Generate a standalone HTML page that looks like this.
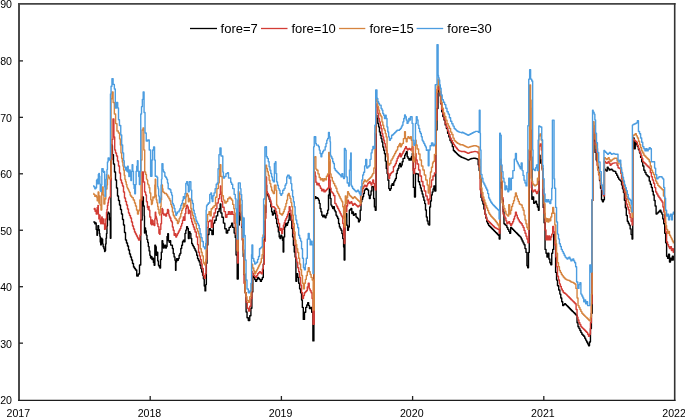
<!DOCTYPE html>
<html><head><meta charset="utf-8"><style>
html,body{margin:0;padding:0;background:#fff;}
svg{display:block;}
text{font-family:"Liberation Sans",Arial,sans-serif;font-size:10.6px;fill:#000;}
</style></head><body>
<svg width="685" height="418" viewBox="0 0 685 418">
<rect width="685" height="418" fill="#fff"/>
<g clip-path="url(#c)">
<polyline points="93.30,222.00 93.80,222.00 93.80,222.00 94.80,222.00 94.80,223.80 95.50,223.80 95.50,223.00 96.20,223.00 96.20,229.60 96.95,229.60 96.95,235.30 97.45,235.30 97.45,230.50 97.90,230.50 97.90,225.70 98.60,225.70 98.60,229.60 99.35,229.60 99.35,233.40 99.80,233.40 99.80,236.30 100.25,236.30 100.25,242.00 100.75,242.00 100.75,244.90 101.25,244.90 101.25,238.20 101.95,238.20 101.95,239.10 102.65,239.10 102.65,243.90 103.15,243.90 103.15,246.80 103.90,246.80 103.90,248.70 104.60,248.70 104.60,251.60 105.05,251.60 105.05,250.60 105.55,250.60 105.55,243.90 106.05,243.90 106.05,238.20 106.50,238.20 106.50,233.40 106.95,233.40 106.95,226.00 107.45,226.00 107.45,214.10 107.95,214.10 107.95,212.20 108.65,212.20 108.65,213.20 109.35,213.20 109.35,219.90 109.85,219.90 109.85,218.00 110.35,218.00 110.35,238.20 110.90,238.20 110.90,160.00 111.45,160.00 111.45,144.40 111.80,144.40 111.80,145.60 112.43,145.60 112.43,154.80 113.47,154.80 113.47,164.00 114.50,164.00 114.50,172.00 115.50,172.00 115.50,180.00 116.50,180.00 116.50,188.00 117.50,188.00 117.50,196.00 118.50,196.00 118.50,200.50 119.50,200.50 119.50,205.00 120.50,205.00 120.50,209.50 121.50,209.50 121.50,214.00 122.50,214.00 122.50,219.50 123.50,219.50 123.50,225.00 124.50,225.00 124.50,232.50 125.50,232.50 125.50,240.00 126.50,240.00 126.50,243.00 127.50,243.00 127.50,246.00 128.50,246.00 128.50,250.00 129.50,250.00 129.50,254.00 130.50,254.00 130.50,257.00 131.50,257.00 131.50,260.00 132.50,260.00 132.50,263.50 133.50,263.50 133.50,267.00 134.50,267.00 134.50,268.50 135.50,268.50 135.50,270.00 136.75,270.00 136.75,276.00 138.25,276.00 138.25,274.00 139.50,274.00 139.50,265.00 140.75,265.00 140.75,220.00 142.15,220.00 142.15,197.00 143.40,197.00 143.40,206.00 144.20,206.00 144.20,216.00 144.50,216.00 144.50,233.00 144.90,233.00 144.90,227.90 145.55,227.90 145.55,230.80 146.25,230.80 146.25,235.10 146.95,235.10 146.95,239.40 147.65,239.40 147.65,242.30 148.35,242.30 148.35,246.60 149.10,246.60 149.10,250.90 149.85,250.90 149.85,255.20 150.55,255.20 150.55,258.10 151.25,258.10 151.25,256.60 151.95,256.60 151.95,259.50 152.65,259.50 152.65,258.10 153.40,258.10 153.40,262.40 154.15,262.40 154.15,265.20 154.85,265.20 154.85,245.10 155.55,245.10 155.55,246.60 156.25,246.60 156.25,255.20 157.00,255.20 157.00,252.30 157.75,252.30 157.75,260.90 158.45,260.90 158.45,265.20 159.15,265.20 159.15,266.70 159.85,266.70 159.85,268.10 160.55,268.10 160.55,259.50 161.30,259.50 161.30,252.30 162.05,252.30 162.05,240.80 162.75,240.80 162.75,243.70 163.45,243.70 163.45,248.00 164.15,248.00 164.15,246.60 164.85,246.60 164.85,245.10 165.60,245.10 165.60,248.00 166.35,248.00 166.35,246.60 167.05,246.60 167.05,236.50 167.75,236.50 167.75,233.70 168.45,233.70 168.45,240.80 169.20,240.80 169.20,242.30 169.95,242.30 169.95,240.80 170.65,240.80 170.65,245.10 171.50,245.10 171.50,245.20 172.40,245.20 172.40,248.50 173.25,248.50 173.25,253.50 174.10,253.50 174.10,256.90 174.95,256.90 174.95,260.20 175.55,260.20 175.55,270.30 175.95,270.30 175.95,261.90 176.60,261.90 176.60,258.60 177.45,258.60 177.45,260.20 178.30,260.20 178.30,258.60 179.10,258.60 179.10,255.20 179.95,255.20 179.95,253.50 180.80,253.50 180.80,248.50 181.65,248.50 181.65,245.20 182.50,245.20 182.50,241.80 183.30,241.80 183.30,240.10 184.15,240.10 184.15,241.80 185.00,241.80 185.00,233.40 185.80,233.40 185.80,230.10 186.65,230.10 186.65,226.70 187.50,226.70 187.50,228.40 188.35,228.40 188.35,238.50 189.20,238.50 189.20,231.80 190.00,231.80 190.00,233.40 190.85,233.40 190.85,238.50 191.70,238.50 191.70,243.50 192.50,243.50 192.50,245.20 193.35,245.20 193.35,246.80 194.20,246.80 194.20,248.50 195.05,248.50 195.05,250.20 195.90,250.20 195.90,251.90 196.70,251.90 196.70,255.20 197.55,255.20 197.55,258.60 198.40,258.60 198.40,260.20 199.20,260.20 199.20,261.90 200.05,261.90 200.05,265.30 200.90,265.30 200.90,268.60 201.75,268.60 201.75,272.00 202.60,272.00 202.60,275.30 203.40,275.30 203.40,278.70 204.25,278.70 204.25,286.00 205.00,286.00 205.00,290.90 205.30,290.90 205.30,290.90 205.70,290.90 205.70,284.60 206.35,284.60 206.35,263.20 207.00,263.20 207.00,245.00 207.85,245.00 207.85,234.50 209.00,234.50 209.00,228.80 210.45,228.80 210.45,230.20 211.90,230.20 211.90,234.50 213.30,234.50 213.30,223.10 214.75,223.10 214.75,220.20 216.20,220.20 216.20,215.90 217.65,215.90 217.65,211.60 219.10,211.60 219.10,208.70 220.15,208.70 220.15,204.00 220.85,204.00 220.85,213.00 221.95,213.00 221.95,217.30 223.40,217.30 223.40,223.10 224.80,223.10 224.80,228.80 226.25,228.80 226.25,233.10 227.70,233.10 227.70,230.20 229.10,230.20 229.10,227.40 230.55,227.40 230.55,225.90 231.65,225.90 231.65,223.10 232.70,223.10 232.70,227.40 234.15,227.40 234.15,233.10 235.25,233.10 235.25,237.40 236.05,237.40 236.05,255.00 237.20,255.00 237.20,279.00 238.25,279.00 238.25,225.00 239.25,225.00 239.25,205.80 240.25,205.80 240.25,213.00 240.95,213.00 240.95,220.20 241.65,220.20 241.65,227.40 242.40,227.40 242.40,240.00 243.25,240.00 243.25,256.50 244.17,256.50 244.17,274.65 245.12,274.65 245.12,292.80 246.10,292.80 246.10,312.00 247.05,312.00 247.05,317.70 248.30,317.70 248.30,320.60 249.75,320.60 249.75,315.80 250.90,315.80 250.90,308.20 251.88,308.20 251.88,291.90 252.83,291.90 252.83,275.60 253.78,275.60 253.78,277.55 254.72,277.55 254.72,279.50 255.65,279.50 255.65,281.40 256.60,281.40 256.60,279.45 257.60,279.45 257.60,277.50 258.58,277.50 258.58,278.50 259.52,278.50 259.52,279.50 260.45,279.50 260.45,281.40 261.38,281.40 261.38,279.45 262.33,279.45 262.33,277.50 263.30,277.50 263.30,264.10 264.15,264.10 264.15,240.00 264.93,240.00 264.93,212.60 265.77,212.60 265.77,185.20 266.60,185.20 266.60,193.40 267.43,193.40 267.43,195.05 268.27,195.05 268.27,196.70 269.12,196.70 269.12,199.20 269.97,199.20 269.97,201.70 270.80,201.70 270.80,206.80 271.60,206.80 271.60,211.80 272.45,211.80 272.45,215.10 273.30,215.10 273.30,213.50 274.15,213.50 274.15,210.10 275.00,210.10 275.00,213.50 275.80,213.50 275.80,218.50 276.65,218.50 276.65,223.50 277.50,223.50 277.50,226.90 278.35,226.90 278.35,231.90 279.20,231.90 279.20,236.90 280.00,236.90 280.00,238.60 280.85,238.60 280.85,235.20 281.70,235.20 281.70,236.90 282.50,236.90 282.50,240.30 283.15,240.30 283.15,252.00 283.75,252.00 283.75,236.90 284.60,236.90 284.60,226.90 285.70,226.90 285.70,223.50 286.70,223.50 286.70,225.20 287.53,225.20 287.53,222.70 288.38,222.70 288.38,220.20 289.20,220.20 289.20,213.50 290.05,213.50 290.05,215.10 290.90,215.10 290.90,220.20 291.75,220.20 291.75,228.50 292.60,228.50 292.60,236.90 293.40,236.90 293.40,245.30 294.25,245.30 294.25,252.00 295.10,252.00 295.10,257.00 295.90,257.00 295.90,281.20 296.75,281.20 296.75,273.60 297.70,273.60 297.70,277.40 298.65,277.40 298.65,283.20 299.60,283.20 299.60,288.90 300.60,288.90 300.60,292.70 301.55,292.70 301.55,300.00 302.35,300.00 302.35,307.40 303.30,307.40 303.30,319.40 304.50,319.40 304.50,312.20 305.70,312.20 305.70,307.40 306.77,307.40 306.77,305.00 307.73,305.00 307.73,302.60 308.62,302.60 308.62,305.60 309.47,305.60 309.47,308.60 310.50,308.60 310.50,307.40 311.70,307.40 311.70,312.20 312.90,312.20 312.90,340.90 313.90,340.90 313.90,200.00 314.55,200.00 314.55,197.00 315.15,197.00 315.15,196.70 315.95,196.70 315.95,198.40 316.80,198.40 316.80,197.60 317.60,197.60 317.60,198.40 318.45,198.40 318.45,200.10 319.30,200.10 319.30,203.40 320.10,203.40 320.10,208.50 320.95,208.50 320.95,211.80 321.80,211.80 321.80,215.20 322.65,215.20 322.65,216.80 323.50,216.80 323.50,215.20 324.30,215.20 324.30,216.80 325.15,216.80 325.15,217.70 326.00,217.70 326.00,215.20 326.80,215.20 326.80,213.50 327.65,213.50 327.65,210.10 328.50,210.10 328.50,195.00 329.35,195.00 329.35,188.40 330.20,188.40 330.20,198.40 331.00,198.40 331.00,205.10 331.85,205.10 331.85,206.80 332.70,206.80 332.70,208.50 333.50,208.50 333.50,206.80 334.35,206.80 334.35,210.10 335.20,210.10 335.20,211.80 336.05,211.80 336.05,215.20 336.90,215.20 336.90,216.80 337.70,216.80 337.70,218.50 338.55,218.50 338.55,223.50 339.40,223.50 339.40,226.90 340.20,226.90 340.20,228.60 341.05,228.60 341.05,230.20 341.90,230.20 341.90,233.60 342.75,233.60 342.75,238.60 343.60,238.60 343.60,247.00 344.15,247.00 344.15,260.00 344.90,260.00 344.90,216.90 345.95,216.90 345.95,213.60 346.80,213.60 346.80,225.30 347.60,225.30 347.60,230.30 348.45,230.30 348.45,227.00 349.30,227.00 349.30,210.20 350.12,210.20 350.12,209.35 350.97,209.35 350.97,208.50 351.80,208.50 351.80,213.60 352.60,213.60 352.60,211.90 353.45,211.90 353.45,215.20 354.32,215.20 354.32,214.40 355.18,214.40 355.18,213.60 356.00,213.60 356.00,216.90 356.82,216.90 356.82,217.75 357.68,217.75 357.68,218.60 358.50,218.60 358.50,221.90 359.35,221.90 359.35,220.30 360.20,220.30 360.20,210.20 361.00,210.20 361.00,201.80 361.82,201.80 361.82,199.30 362.68,199.30 362.68,196.80 363.53,196.80 363.53,193.45 364.38,193.45 364.38,190.10 365.23,190.10 365.23,189.25 366.07,189.25 366.07,188.40 366.90,188.40 366.90,189.25 367.70,189.25 367.70,190.10 368.55,190.10 368.55,195.10 369.40,195.10 369.40,198.50 370.20,198.50 370.20,195.10 371.03,195.10 371.03,190.95 371.88,190.95 371.88,186.80 372.75,186.80 372.75,186.80 373.60,186.80 373.60,198.50 374.40,198.50 374.40,206.90 375.25,206.90 375.25,210.20 376.10,210.20 376.10,115.20 376.95,115.20 376.95,118.50 377.80,118.50 377.80,123.50 378.60,123.50 378.60,126.90 379.45,126.90 379.45,131.90 380.30,131.90 380.30,135.30 381.10,135.30 381.10,138.60 381.95,138.60 381.95,142.00 382.80,142.00 382.80,147.00 383.65,147.00 383.65,150.30 384.50,150.30 384.50,153.70 385.35,153.70 385.35,161.10 386.25,161.10 386.25,168.50 387.10,168.50 387.10,173.50 387.95,173.50 387.95,180.20 388.80,180.20 388.80,188.60 389.65,188.60 389.65,190.30 390.50,190.30 390.50,188.60 391.30,188.60 391.30,185.20 392.15,185.20 392.15,183.60 393.00,183.60 393.00,185.20 393.80,185.20 393.80,181.90 394.65,181.90 394.65,180.20 395.50,180.20 395.50,178.50 396.35,178.50 396.35,173.50 397.20,173.50 397.20,170.20 398.00,170.20 398.00,168.50 398.85,168.50 398.85,165.10 399.70,165.10 399.70,163.50 400.50,163.50 400.50,166.80 401.35,166.80 401.35,165.10 402.20,165.10 402.20,161.80 403.05,161.80 403.05,158.40 403.90,158.40 403.90,158.40 404.70,158.40 404.70,155.10 405.55,155.10 405.55,153.40 406.40,153.40 406.40,151.70 407.20,151.70 407.20,156.80 408.05,156.80 408.05,158.40 408.90,158.40 408.90,160.10 409.75,160.10 409.75,158.40 410.60,158.40 410.60,160.10 411.40,160.10 411.40,156.80 412.25,156.80 412.25,153.40 413.35,153.40 413.35,187.40 414.50,187.40 414.50,197.00 415.45,197.00 415.45,173.40 416.32,173.40 416.32,173.70 417.18,173.70 417.18,174.00 418.40,174.00 418.40,181.70 419.62,181.70 419.62,184.85 420.47,184.85 420.47,188.00 421.32,188.00 421.32,191.00 422.18,191.00 422.18,194.00 423.00,194.00 423.00,197.00 423.85,197.00 423.85,200.20 424.70,200.20 424.70,203.60 425.50,203.60 425.50,210.00 426.35,210.00 426.35,217.00 427.20,217.00 427.20,221.00 428.05,221.00 428.05,224.00 428.90,224.00 428.90,225.00 429.70,225.00 429.70,207.00 430.53,207.00 430.53,201.00 431.38,201.00 431.38,195.00 432.23,195.00 432.23,192.00 433.07,192.00 433.07,189.00 433.90,189.00 433.90,186.00 434.75,186.00 434.75,191.00 435.85,191.00 435.85,130.00 437.00,130.00 437.00,108.50 438.00,108.50 438.00,87.00 439.02,87.00 439.02,91.50 440.08,91.50 440.08,96.00 440.90,96.00 440.90,104.00 441.70,104.00 441.70,111.70 442.80,111.70 442.80,116.50 444.00,116.50 444.00,120.10 445.20,120.10 445.20,124.90 446.40,124.90 446.40,128.50 447.60,128.50 447.60,133.30 448.80,133.30 448.80,136.90 450.00,136.90 450.00,140.50 451.20,140.50 451.20,142.80 452.33,142.80 452.33,146.65 453.38,146.65 453.38,150.50 454.38,150.50 454.38,151.45 455.33,151.45 455.33,152.40 456.28,152.40 456.28,153.37 457.25,153.37 457.25,154.33 458.22,154.33 458.22,155.30 459.18,155.30 459.18,155.93 460.15,155.93 460.15,156.57 461.12,156.57 461.12,157.20 462.07,157.20 462.07,157.53 463.00,157.53 463.00,157.87 463.93,157.87 463.93,158.20 464.90,158.20 464.90,158.65 465.90,158.65 465.90,159.10 466.88,159.10 466.88,159.60 467.83,159.60 467.83,160.10 468.77,160.10 468.77,159.60 469.73,159.60 469.73,159.10 470.67,159.10 470.67,158.80 471.62,158.80 471.62,158.50 472.53,158.50 472.53,158.35 473.38,158.35 473.38,158.20 474.40,158.20 474.40,158.20 475.45,158.20 475.45,158.50 476.35,158.50 476.35,158.80 477.25,158.80 477.25,159.10 478.17,159.10 478.17,164.85 479.12,164.85 479.12,170.60 480.05,170.60 480.05,178.30 481.00,178.30 481.00,197.40 481.98,197.40 481.98,200.70 482.92,200.70 482.92,204.00 483.88,204.00 483.88,209.05 484.83,209.05 484.83,214.10 485.77,214.10 485.77,217.95 486.73,217.95 486.73,221.80 487.67,221.80 487.67,223.70 488.62,223.70 488.62,225.60 489.60,225.60 489.60,226.55 490.60,226.55 490.60,227.50 491.58,227.50 491.58,228.45 492.52,228.45 492.52,229.40 493.48,229.40 493.48,230.40 494.42,230.40 494.42,231.40 495.38,231.40 495.38,232.35 496.33,232.35 496.33,233.30 497.27,233.30 497.27,234.25 498.23,234.25 498.23,235.20 499.20,235.20 499.20,239.00 500.00,239.00 500.00,180.00 500.65,180.00 500.65,176.00 501.43,176.00 501.43,187.93 502.27,187.93 502.27,199.85 503.12,199.85 503.12,211.77 503.97,211.77 503.97,223.70 504.90,223.70 504.90,224.65 505.90,224.65 505.90,225.60 506.88,225.60 506.88,227.50 507.83,227.50 507.83,229.40 508.77,229.40 508.77,231.35 509.73,231.35 509.73,233.30 510.65,233.30 510.65,227.50 511.60,227.50 511.60,228.45 512.60,228.45 512.60,229.40 513.58,229.40 513.58,230.40 514.52,230.40 514.52,231.40 515.48,231.40 515.48,232.35 516.42,232.35 516.42,233.30 517.38,233.30 517.38,234.25 518.32,234.25 518.32,235.20 519.27,235.20 519.27,236.15 520.23,236.15 520.23,237.10 521.18,237.10 521.18,239.05 522.12,239.05 522.12,241.00 523.08,241.00 523.08,242.90 524.02,242.90 524.02,244.80 525.00,244.80 525.00,248.60 526.00,248.60 526.00,252.40 526.95,252.40 526.95,265.80 527.70,265.80 527.70,267.70 528.50,267.70 528.50,252.40 529.25,252.40 529.25,160.00 529.90,160.00 529.90,144.00 530.90,144.00 530.90,157.00 531.85,157.00 531.85,199.30 532.70,199.30 532.70,197.00 533.65,197.00 533.65,203.20 534.58,203.20 534.58,202.20 535.52,202.20 535.52,201.20 536.48,201.20 536.48,204.10 537.42,204.10 537.42,207.00 538.40,207.00 538.40,210.30 539.10,210.30 539.10,155.30 540.05,155.30 540.05,163.00 541.15,163.00 541.15,160.00 542.10,160.00 542.10,168.70 543.15,168.70 543.15,207.40 544.10,207.40 544.10,222.70 545.05,222.70 545.05,249.40 546.00,249.40 546.00,253.30 546.95,253.30 546.95,257.10 547.90,257.10 547.90,253.30 548.90,253.30 548.90,259.00 549.85,259.00 549.85,262.80 550.80,262.80 550.80,264.80 551.75,264.80 551.75,253.30 552.70,253.30 552.70,249.40 553.65,249.40 553.65,234.10 554.60,234.10 554.60,239.90 555.60,239.90 555.60,272.40 556.55,272.40 556.55,280.10 557.50,280.10 557.50,285.80 558.70,285.80 558.70,290.00 559.85,290.00 559.85,294.10 560.77,294.10 560.77,297.95 561.73,297.95 561.73,301.80 562.70,301.80 562.70,305.60 563.68,305.60 563.68,304.65 564.62,304.65 564.62,303.70 565.58,303.70 565.58,304.65 566.52,304.65 566.52,305.60 567.48,305.60 567.48,306.55 568.42,306.55 568.42,307.50 569.38,307.50 569.38,308.50 570.32,308.50 570.32,309.50 571.30,309.50 571.30,310.45 572.30,310.45 572.30,311.40 573.27,311.40 573.27,312.35 574.23,312.35 574.23,313.30 575.18,313.30 575.18,314.25 576.12,314.25 576.12,315.20 577.05,315.20 577.05,322.80 578.00,322.80 578.00,326.70 578.98,326.70 578.98,328.60 579.92,328.60 579.92,330.50 580.88,330.50 580.88,332.40 581.82,332.40 581.82,334.30 582.77,334.30 582.77,335.25 583.73,335.25 583.73,336.20 584.68,336.20 584.68,338.15 585.62,338.15 585.62,340.10 586.60,340.10 586.60,342.00 587.60,342.00 587.60,343.90 588.55,343.90 588.55,345.80 589.50,345.80 589.50,342.00 590.45,342.00 590.45,328.60 591.40,328.60 591.40,313.30 592.20,313.30 592.20,200.00 593.05,200.00 593.05,133.30 594.10,133.30 594.10,140.90 595.05,140.90 595.05,152.40 596.20,152.40 596.20,160.10 597.05,160.10 597.05,161.50 597.68,161.50 597.68,167.25 598.62,167.25 598.62,173.00 599.58,173.00 599.58,180.65 600.52,180.65 600.52,188.30 601.50,188.30 601.50,199.80 602.45,199.80 602.45,201.70 603.40,201.70 603.40,199.80 604.40,199.80 604.40,169.10 605.38,169.10 605.38,170.10 606.32,170.10 606.32,171.10 607.25,171.10 607.25,167.20 608.18,167.20 608.18,168.60 609.12,168.60 609.12,170.00 610.10,170.00 610.10,169.55 611.10,169.55 611.10,169.10 612.08,169.10 612.08,170.10 613.02,170.10 613.02,171.10 613.95,171.10 613.95,171.30 614.85,171.30 614.85,171.50 615.77,171.50 615.77,173.40 616.73,173.40 616.73,175.30 617.68,175.30 617.68,177.20 618.62,177.20 618.62,179.10 619.60,179.10 619.60,180.10 620.60,180.10 620.60,181.10 621.55,181.10 621.55,184.90 622.50,184.90 622.50,188.70 623.45,188.70 623.45,192.50 624.40,192.50 624.40,200.20 625.35,200.20 625.35,207.80 626.30,207.80 626.30,215.50 627.30,215.50 627.30,221.20 628.25,221.20 628.25,223.20 629.20,223.20 629.20,225.10 630.15,225.10 630.15,228.90 631.10,228.90 631.10,234.60 632.05,234.60 632.05,239.00 632.75,239.00 632.75,140.00 633.30,140.00 633.30,138.00 634.15,138.00 634.15,148.80 635.25,148.80 635.25,142.30 636.32,142.30 636.32,144.45 637.38,144.45 637.38,146.60 638.45,146.60 638.45,149.85 639.55,149.85 639.55,153.10 640.62,153.10 640.62,157.40 641.68,157.40 641.68,161.70 642.75,161.70 642.75,166.00 643.85,166.00 643.85,170.30 644.92,170.30 644.92,172.45 645.98,172.45 645.98,174.60 647.05,174.60 647.05,175.70 648.15,175.70 648.15,176.80 649.25,176.80 649.25,181.10 650.32,181.10 650.32,184.30 651.38,184.30 651.38,187.50 652.35,187.50 652.35,191.25 653.25,191.25 653.25,195.00 654.18,195.00 654.18,200.50 655.12,200.50 655.12,206.00 656.10,206.00 656.10,214.10 657.08,214.10 657.08,213.15 658.02,213.15 658.02,212.20 658.98,212.20 658.98,211.25 659.92,211.25 659.92,210.30 660.88,210.30 660.88,212.20 661.82,212.20 661.82,214.10 662.77,214.10 662.77,218.90 663.73,218.90 663.73,223.70 664.70,223.70 664.70,233.30 665.65,233.30 665.65,242.80 666.60,242.80 666.60,256.20 667.60,256.20 667.60,258.20 668.55,258.20 668.55,254.30 669.50,254.30 669.50,262.00 670.50,262.00 670.50,258.20 671.45,258.20 671.45,260.10 672.35,260.10 672.35,256.20 673.30,256.20 673.30,260.10 673.80,260.10" fill="none" stroke="#000000" stroke-width="1.4" stroke-linejoin="round"/>
<polyline points="93.80,209.40 94.30,209.40 94.30,208.40 95.05,208.40 95.05,211.30 95.50,211.30 95.50,210.30 96.20,210.30 96.20,214.10 97.20,214.10 97.20,207.40 97.90,207.40 97.90,205.50 98.35,205.50 98.35,214.10 98.85,214.10 98.85,218.90 99.35,218.90 99.35,215.10 100.05,215.10 100.05,221.80 100.75,221.80 100.75,223.70 101.25,223.70 101.25,218.90 101.75,218.90 101.75,217.00 102.20,217.00 102.20,221.80 102.65,221.80 102.65,223.70 103.15,223.70 103.15,218.90 103.90,218.90 103.90,223.70 104.60,223.70 104.60,229.40 105.05,229.40 105.05,228.50 105.80,228.50 105.80,218.90 106.50,218.90 106.50,212.20 106.95,212.20 106.95,209.40 107.45,209.40 107.45,205.50 107.95,205.50 107.95,202.70 108.45,202.70 108.45,199.80 108.90,199.80 108.90,197.90 109.60,197.90 109.60,196.90 110.45,196.90 110.45,180.00 111.23,180.00 111.23,159.67 112.10,159.67 112.10,139.33 112.97,139.33 112.97,119.00 113.90,119.00 113.90,137.00 114.70,137.00 114.70,150.00 115.50,150.00 115.50,153.00 116.50,153.00 116.50,156.00 117.50,156.00 117.50,161.00 118.50,161.00 118.50,166.00 119.50,166.00 119.50,173.00 120.50,173.00 120.50,180.00 121.50,180.00 121.50,183.00 122.50,183.00 122.50,186.00 123.50,186.00 123.50,192.00 124.50,192.00 124.50,198.00 125.50,198.00 125.50,201.50 126.50,201.50 126.50,205.00 127.50,205.00 127.50,209.00 128.50,209.00 128.50,213.00 129.50,213.00 129.50,215.50 130.50,215.50 130.50,218.00 131.50,218.00 131.50,222.00 132.50,222.00 132.50,226.00 133.50,226.00 133.50,229.00 134.50,229.00 134.50,232.00 135.50,232.00 135.50,234.00 136.50,234.00 136.50,236.00 137.50,236.00 137.50,238.00 138.50,238.00 138.50,240.00 139.25,240.00 139.25,240.00 139.90,240.00 139.90,235.00 140.90,235.00 140.90,200.00 142.15,200.00 142.15,172.00 143.40,172.00 143.40,182.00 144.60,182.00 144.60,192.00 145.60,192.00 145.60,195.00 146.45,195.00 146.45,201.70 147.40,201.70 147.40,207.40 148.10,207.40 148.10,209.40 148.55,209.40 148.55,206.50 149.05,206.50 149.05,210.30 149.80,210.30 149.80,217.00 150.75,217.00 150.75,223.70 151.45,223.70 151.45,224.70 151.95,224.70 151.95,219.90 152.45,219.90 152.45,220.80 153.15,220.80 153.15,224.70 153.85,224.70 153.85,223.70 154.35,223.70 154.35,225.60 154.80,225.60 154.80,218.90 155.25,218.90 155.25,212.20 155.75,212.20 155.75,216.10 156.25,216.10 156.25,218.00 156.75,218.00 156.75,219.90 157.20,219.90 157.20,223.70 157.90,223.70 157.90,226.60 158.90,226.60 158.90,233.30 159.60,233.30 159.60,234.20 160.05,234.20 160.05,229.40 160.80,229.40 160.80,223.70 161.50,223.70 161.50,214.10 161.95,214.10 161.95,208.40 162.45,208.40 162.45,209.40 162.95,209.40 162.95,213.20 163.65,213.20 163.65,215.10 164.60,215.10 164.60,214.10 165.60,214.10 165.60,216.10 166.55,216.10 166.55,213.20 167.50,213.20 167.50,209.40 168.20,209.40 168.20,210.30 168.65,210.30 168.65,214.10 169.15,214.10 169.15,216.10 169.90,216.10 169.90,218.00 170.85,218.00 170.85,220.80 171.65,220.80 171.65,221.90 172.40,221.90 172.40,227.00 173.25,227.00 173.25,230.30 174.10,230.30 174.10,235.30 174.95,235.30 174.95,233.70 175.80,233.70 175.80,237.00 176.62,237.00 176.62,235.33 177.45,235.33 177.45,233.67 178.28,233.67 178.28,232.00 179.12,232.00 179.12,230.30 179.98,230.30 179.98,228.60 180.82,228.60 180.82,226.10 181.68,226.10 181.68,223.60 182.50,223.60 182.50,220.30 183.30,220.30 183.30,216.90 184.15,216.90 184.15,220.30 185.00,220.30 185.00,213.60 185.80,213.60 185.80,208.50 186.65,208.50 186.65,205.20 187.50,205.20 187.50,206.90 188.35,206.90 188.35,213.60 189.20,213.60 189.20,210.20 190.00,210.20 190.00,211.90 190.85,211.90 190.85,218.60 191.70,218.60 191.70,221.90 192.52,221.90 192.52,224.45 193.38,224.45 193.38,227.00 194.23,227.00 194.23,229.50 195.07,229.50 195.07,232.00 196.30,232.00 196.30,237.00 197.57,237.00 197.57,244.65 198.53,244.65 198.53,252.30 199.45,252.30 199.45,255.90 200.35,255.90 200.35,259.50 201.25,259.50 201.25,263.95 202.15,263.95 202.15,268.40 203.30,268.40 203.30,275.60 204.35,275.60 204.35,278.30 205.25,278.30 205.25,273.80 206.10,273.80 206.10,259.30 207.00,259.30 207.00,227.40 208.30,227.40 208.30,221.60 209.75,221.60 209.75,220.20 211.20,220.20 211.20,227.40 212.60,227.40 212.60,217.30 214.05,217.30 214.05,213.00 215.50,213.00 215.50,208.70 216.90,208.70 216.90,203.00 218.35,203.00 218.35,198.70 219.60,198.70 219.60,194.40 220.35,194.40 220.35,186.00 220.90,186.00 220.90,192.00 221.55,192.00 221.55,201.50 222.65,201.50 222.65,207.30 224.10,207.30 224.10,211.60 225.50,211.60 225.50,217.30 226.95,217.30 226.95,214.40 228.40,214.40 228.40,211.60 229.85,211.60 229.85,214.40 231.30,214.40 231.30,211.60 232.70,211.60 232.70,214.40 234.15,214.40 234.15,223.10 235.25,223.10 235.25,227.40 235.95,227.40 235.95,234.50 236.75,234.50 236.75,250.00 237.55,250.00 237.55,263.00 238.20,263.00 238.20,215.00 238.85,215.00 238.85,194.40 239.55,194.40 239.55,204.40 240.25,204.40 240.25,211.60 240.95,211.60 240.95,215.90 241.65,215.90 241.65,225.90 242.40,225.90 242.40,240.00 243.05,240.00 243.05,250.00 244.00,250.00 244.00,283.30 245.17,283.30 245.17,292.85 246.12,292.85 246.12,302.40 247.25,302.40 247.25,308.20 248.50,308.20 248.50,311.00 249.75,311.00 249.75,306.20 250.90,306.20 250.90,298.60 251.85,298.60 251.85,271.80 252.78,271.80 252.78,273.70 253.72,273.70 253.72,275.60 254.68,275.60 254.68,276.55 255.62,276.55 255.62,277.50 256.60,277.50 256.60,275.60 257.60,275.60 257.60,273.70 258.58,273.70 258.58,272.75 259.52,272.75 259.52,271.80 260.48,271.80 260.48,272.75 261.42,272.75 261.42,273.70 262.38,273.70 262.38,268.90 263.33,268.90 263.33,264.10 264.27,264.10 264.27,241.20 265.23,241.20 265.23,218.30 265.95,218.30 265.95,176.90 266.60,176.90 266.60,191.70 267.43,191.70 267.43,193.35 268.27,193.35 268.27,195.00 269.12,195.00 269.12,197.55 269.97,197.55 269.97,200.10 270.80,200.10 270.80,203.45 271.60,203.45 271.60,206.80 272.43,206.80 272.43,206.80 273.27,206.80 273.27,206.80 274.12,206.80 274.12,207.60 274.97,207.60 274.97,208.40 275.82,208.40 275.82,211.75 276.68,211.75 276.68,215.10 277.53,215.10 277.53,219.30 278.38,219.30 278.38,223.50 279.60,223.50 279.60,230.20 280.85,230.20 280.85,228.50 281.70,228.50 281.70,233.60 282.53,233.60 282.53,229.40 283.38,229.40 283.38,225.20 284.23,225.20 284.23,222.70 285.07,222.70 285.07,220.20 285.90,220.20 285.90,218.50 286.70,218.50 286.70,216.80 287.53,216.80 287.53,214.30 288.38,214.30 288.38,211.80 289.20,211.80 289.20,206.80 290.05,206.80 290.05,210.10 290.93,210.10 290.93,215.15 291.77,215.15 291.77,220.20 292.60,220.20 292.60,226.90 293.40,226.90 293.40,233.60 294.23,233.60 294.23,239.45 295.07,239.45 295.07,245.30 295.90,245.30 295.90,258.30 296.75,258.30 296.75,262.10 297.70,262.10 297.70,267.80 298.65,267.80 298.65,271.70 299.60,271.70 299.60,277.40 300.60,277.40 300.60,285.10 301.55,285.10 301.55,292.70 302.50,292.70 302.50,298.50 303.48,298.50 303.48,295.60 304.42,295.60 304.42,292.70 305.38,292.70 305.38,291.75 306.33,291.75 306.33,290.80 307.27,290.80 307.27,287.00 308.23,287.00 308.23,283.20 309.20,283.20 309.20,288.90 310.17,288.90 310.17,290.80 311.12,290.80 311.12,292.70 312.05,292.70 312.05,298.50 313.00,298.50 313.00,324.20 314.20,324.20 314.20,172.00 315.20,172.00 315.20,176.00 315.85,176.00 315.85,182.30 316.80,182.30 316.80,184.70 318.00,184.70 318.00,183.50 319.20,183.50 319.20,185.90 320.40,185.90 320.40,188.30 321.60,188.30 321.60,190.70 322.80,190.70 322.80,189.50 324.00,189.50 324.00,191.90 325.20,191.90 325.20,190.70 326.40,190.70 326.40,189.50 327.55,189.50 327.55,188.30 328.70,188.30 328.70,162.00 329.60,162.00 329.60,179.90 330.20,179.90 330.20,188.30 331.10,188.30 331.10,191.90 332.30,191.90 332.30,193.10 333.50,193.10 333.50,195.50 334.85,195.50 334.85,203.40 336.03,203.40 336.03,205.10 336.88,205.10 336.88,206.80 337.73,206.80 337.73,208.45 338.57,208.45 338.57,210.10 339.40,210.10 339.40,211.80 340.20,211.80 340.20,213.50 341.03,213.50 341.03,215.15 341.88,215.15 341.88,216.80 342.75,216.80 342.75,223.50 343.60,223.50 343.60,235.30 344.25,235.30 344.25,243.60 344.90,243.60 344.90,205.00 345.85,205.00 345.85,211.90 346.80,211.90 346.80,206.05 347.60,206.05 347.60,200.20 348.43,200.20 348.43,201.85 349.27,201.85 349.27,203.50 350.12,203.50 350.12,202.65 350.97,202.65 350.97,201.80 351.80,201.80 351.80,203.50 352.60,203.50 352.60,205.20 353.43,205.20 353.43,204.35 354.27,204.35 354.27,203.50 355.12,203.50 355.12,204.35 355.97,204.35 355.97,205.20 356.82,205.20 356.82,206.05 357.68,206.05 357.68,206.90 358.53,206.90 358.53,206.05 359.38,206.05 359.38,205.20 360.60,205.20 360.60,195.10 361.82,195.10 361.82,191.75 362.68,191.75 362.68,188.40 363.53,188.40 363.53,186.75 364.38,186.75 364.38,185.10 365.23,185.10 365.23,185.95 366.07,185.95 366.07,186.80 366.90,186.80 366.90,185.10 367.70,185.10 367.70,183.40 368.53,183.40 368.53,182.55 369.38,182.55 369.38,181.70 370.23,181.70 370.23,183.40 371.07,183.40 371.07,185.10 371.93,185.10 371.93,182.55 372.77,182.55 372.77,180.00 373.60,180.00 373.60,183.40 374.40,183.40 374.40,186.80 375.20,186.80 375.20,190.00 376.00,190.00 376.00,104.00 376.90,104.00 376.90,106.80 377.80,106.80 377.80,113.50 378.60,113.50 378.60,118.50 379.45,118.50 379.45,121.90 380.30,121.90 380.30,125.20 381.10,125.20 381.10,128.60 381.95,128.60 381.95,133.60 382.80,133.60 382.80,136.90 383.65,136.90 383.65,140.30 384.50,140.30 384.50,143.60 385.30,143.60 385.30,147.00 386.15,147.00 386.15,150.30 387.00,150.30 387.00,153.70 387.90,153.70 387.90,173.50 388.80,173.50 388.80,178.50 389.65,178.50 389.65,175.20 390.50,175.20 390.50,173.50 391.32,173.50 391.32,172.65 392.18,172.65 392.18,171.80 393.40,171.80 393.40,166.80 394.62,166.80 394.62,165.15 395.47,165.15 395.47,163.50 396.32,163.50 396.32,160.95 397.18,160.95 397.18,158.40 398.03,158.40 398.03,156.75 398.88,156.75 398.88,155.10 399.70,155.10 399.70,153.40 400.50,153.40 400.50,156.80 401.32,156.80 401.32,155.10 402.18,155.10 402.18,153.40 403.03,153.40 403.03,151.75 403.88,151.75 403.88,150.10 404.73,150.10 404.73,148.40 405.57,148.40 405.57,146.70 406.40,146.70 406.40,148.40 407.20,148.40 407.20,150.10 408.03,150.10 408.03,149.25 408.88,149.25 408.88,148.40 409.73,148.40 409.73,149.25 410.57,149.25 410.57,150.10 411.43,150.10 411.43,148.40 412.27,148.40 412.27,146.70 413.05,146.70 413.05,170.30 413.80,170.30 413.80,173.60 414.60,173.60 414.60,168.60 415.45,168.60 415.45,153.60 416.15,153.60 416.15,160.00 417.15,160.00 417.15,164.00 418.60,164.00 418.60,170.00 420.00,170.00 420.00,176.00 421.45,176.00 421.45,181.50 422.90,181.50 422.90,186.00 424.30,186.00 424.30,191.00 425.75,191.00 425.75,196.00 427.20,196.00 427.20,200.00 428.25,200.00 428.25,204.00 429.00,204.00 429.00,199.00 430.10,199.00 430.10,187.00 431.50,187.00 431.50,180.00 432.95,180.00 432.95,176.00 434.40,176.00 434.40,173.00 435.80,173.00 435.80,120.00 437.05,120.00 437.05,89.50 438.20,89.50 438.20,87.10 439.40,87.10 439.40,91.90 440.50,91.90 440.50,103.00 441.60,103.00 441.60,109.40 442.80,109.40 442.80,114.10 444.00,114.10 444.00,118.90 445.20,118.90 445.20,123.70 446.40,123.70 446.40,127.30 447.60,127.30 447.60,130.90 448.80,130.90 448.80,134.50 450.00,134.50 450.00,138.10 451.20,138.10 451.20,140.50 452.40,140.50 452.40,142.80 453.50,142.80 453.50,144.40 454.50,144.40 454.50,146.00 455.46,146.00 455.46,147.12 456.39,147.12 456.39,148.25 457.31,148.25 457.31,149.38 458.24,149.38 458.24,150.50 459.18,150.50 459.18,150.83 460.15,150.83 460.15,151.17 461.12,151.17 461.12,151.50 462.07,151.50 462.07,151.50 463.00,151.50 463.00,151.50 463.93,151.50 463.93,151.50 464.90,151.50 464.90,151.95 465.90,151.95 465.90,152.40 466.88,152.40 466.88,152.90 467.83,152.90 467.83,153.40 468.77,153.40 468.77,152.90 469.73,152.90 469.73,152.40 470.67,152.40 470.67,152.20 471.62,152.20 471.62,152.00 472.58,152.00 472.58,151.83 473.55,151.83 473.55,151.67 474.52,151.67 474.52,151.50 475.47,151.50 475.47,151.67 476.40,151.67 476.40,151.83 477.33,151.83 477.33,152.00 478.20,152.00 478.20,153.40 479.10,153.40 479.10,166.80 480.05,166.80 480.05,189.80 480.98,189.80 480.98,193.60 481.92,193.60 481.92,197.40 482.90,197.40 482.90,200.20 483.90,200.20 483.90,203.00 484.85,203.00 484.85,214.10 485.77,214.10 485.77,217.00 486.73,217.00 486.73,219.90 487.67,219.90 487.67,220.85 488.62,220.85 488.62,221.80 489.60,221.80 489.60,222.75 490.60,222.75 490.60,223.70 491.58,223.70 491.58,224.65 492.52,224.65 492.52,225.60 493.48,225.60 493.48,226.55 494.42,226.55 494.42,227.50 495.38,227.50 495.38,228.00 496.33,228.00 496.33,228.50 497.27,228.50 497.27,228.95 498.23,228.95 498.23,229.40 499.20,229.40 499.20,233.30 499.95,233.30 499.95,170.00 500.60,170.00 500.60,165.00 501.42,165.00 501.42,181.37 502.25,181.37 502.25,197.73 503.08,197.73 503.08,214.10 503.98,214.10 503.98,216.05 504.92,216.05 504.92,218.00 505.88,218.00 505.88,220.85 506.83,220.85 506.83,223.70 507.77,223.70 507.77,222.75 508.73,222.75 508.73,221.80 509.67,221.80 509.67,223.70 510.62,223.70 510.62,225.60 511.60,225.60 511.60,223.70 512.60,223.70 512.60,221.80 513.58,221.80 513.58,218.95 514.52,218.95 514.52,216.10 515.45,216.10 515.45,212.20 516.38,212.20 516.38,215.10 517.32,215.10 517.32,218.00 518.30,218.00 518.30,219.90 519.30,219.90 519.30,221.80 520.27,221.80 520.27,222.75 521.23,222.75 521.23,223.70 522.18,223.70 522.18,225.60 523.12,225.60 523.12,227.50 524.08,227.50 524.08,230.40 525.02,230.40 525.02,233.30 525.98,233.30 525.98,236.15 526.92,236.15 526.92,239.00 527.90,239.00 527.90,242.80 528.85,242.80 528.85,160.00 529.70,160.00 529.70,108.00 530.65,108.00 530.65,130.00 531.35,130.00 531.35,187.80 531.92,187.80 531.92,189.75 532.78,189.75 532.78,191.70 533.68,191.70 533.68,190.85 534.62,190.85 534.62,190.00 535.58,190.00 535.58,191.80 536.52,191.80 536.52,193.60 537.42,193.60 537.42,191.80 538.28,191.80 538.28,190.00 539.05,190.00 539.05,146.00 540.10,146.00 540.10,144.00 541.30,144.00 541.30,150.00 542.15,150.00 542.15,170.00 543.05,170.00 543.05,195.00 544.10,195.00 544.10,213.20 545.05,213.20 545.05,230.00 546.00,230.00 546.00,239.90 546.95,239.90 546.95,236.00 547.90,236.00 547.90,239.90 548.90,239.90 548.90,236.00 549.85,236.00 549.85,239.90 550.77,239.90 550.77,237.00 551.73,237.00 551.73,234.10 552.70,234.10 552.70,226.50 553.75,226.50 553.75,232.00 554.90,232.00 554.90,245.00 555.80,245.00 555.80,257.10 556.55,257.10 556.55,266.70 557.50,266.70 557.50,276.20 558.48,276.20 558.48,280.05 559.42,280.05 559.42,283.90 560.38,283.90 560.38,286.45 561.32,286.45 561.32,289.00 562.27,289.00 562.27,290.75 563.23,290.75 563.23,292.50 564.30,292.50 564.30,293.30 565.50,293.30 565.50,294.10 566.58,294.10 566.58,295.10 567.52,295.10 567.52,296.10 568.48,296.10 568.48,297.05 569.42,297.05 569.42,298.00 570.38,298.00 570.38,298.95 571.32,298.95 571.32,299.90 572.27,299.90 572.27,300.85 573.23,300.85 573.23,301.80 574.18,301.80 574.18,302.75 575.12,302.75 575.12,303.70 576.10,303.70 576.10,309.50 577.05,309.50 577.05,317.10 577.98,317.10 577.98,319.95 578.92,319.95 578.92,322.80 579.90,322.80 579.90,324.75 580.90,324.75 580.90,326.70 581.88,326.70 581.88,327.65 582.82,327.65 582.82,328.60 583.77,328.60 583.77,329.55 584.73,329.55 584.73,330.50 585.68,330.50 585.68,331.45 586.62,331.45 586.62,332.40 587.58,332.40 587.58,334.30 588.52,334.30 588.52,336.20 589.50,336.20 589.50,334.30 590.45,334.30 590.45,322.80 591.40,322.80 591.40,303.70 592.20,303.70 592.20,200.00 593.05,200.00 593.05,125.60 594.10,125.60 594.10,133.30 595.05,133.30 595.05,144.80 596.20,144.80 596.20,152.40 597.05,152.40 597.05,165.30 597.68,165.30 597.68,170.10 598.62,170.10 598.62,174.90 599.58,174.90 599.58,179.65 600.52,179.65 600.52,184.40 601.48,184.40 601.48,189.20 602.42,189.20 602.42,194.00 603.40,194.00 603.40,195.90 604.40,195.90 604.40,161.50 605.38,161.50 605.38,162.45 606.32,162.45 606.32,163.40 607.27,163.40 607.27,162.45 608.23,162.45 608.23,161.50 609.18,161.50 609.18,163.40 610.12,163.40 610.12,165.30 611.08,165.30 611.08,164.35 612.02,164.35 612.02,163.40 613.05,163.40 613.05,163.15 614.15,163.15 614.15,162.90 615.18,162.90 615.18,162.90 616.12,162.90 616.12,162.90 617.08,162.90 617.08,165.30 618.02,165.30 618.02,167.70 618.98,167.70 618.98,168.20 619.92,168.20 619.92,168.70 620.75,168.70 620.75,173.40 621.55,173.40 621.55,179.10 622.50,179.10 622.50,184.90 623.48,184.90 623.48,188.70 624.42,188.70 624.42,192.50 625.38,192.50 625.38,198.25 626.32,198.25 626.32,204.00 627.27,204.00 627.27,206.90 628.23,206.90 628.23,209.80 629.20,209.80 629.20,213.60 630.15,213.60 630.15,217.40 631.10,217.40 631.10,221.20 632.05,221.20 632.05,225.00 632.65,225.00 632.65,139.00 633.27,139.00 633.27,139.55 634.23,139.55 634.23,140.10 635.23,140.10 635.23,141.20 636.27,141.20 636.27,142.30 637.35,142.30 637.35,145.55 638.45,145.55 638.45,148.80 639.55,148.80 639.55,152.00 640.65,152.00 640.65,155.20 641.73,155.20 641.73,158.45 642.77,158.45 642.77,161.70 643.85,161.70 643.85,162.75 644.95,162.75 644.95,163.80 646.02,163.80 646.02,164.90 647.08,164.90 647.08,166.00 648.15,166.00 648.15,167.05 649.25,167.05 649.25,168.10 650.32,168.10 650.32,172.45 651.38,172.45 651.38,176.80 652.45,176.80 652.45,180.00 653.55,180.00 653.55,183.20 654.62,183.20 654.62,187.60 655.68,187.60 655.68,192.00 656.75,192.00 656.75,194.00 657.85,194.00 657.85,196.00 658.92,196.00 658.92,197.50 659.98,197.50 659.98,199.00 661.00,199.00 661.00,200.50 662.00,200.50 662.00,202.00 662.92,202.00 662.92,207.00 663.78,207.00 663.78,212.00 664.70,212.00 664.70,222.00 665.65,222.00 665.65,232.00 666.60,232.00 666.60,242.00 667.60,242.00 667.60,244.80 668.55,244.80 668.55,246.70 669.50,246.70 669.50,248.60 670.50,248.60 670.50,246.70 671.45,246.70 671.45,250.50 672.35,250.50 672.35,248.60 673.30,248.60 673.30,252.40 673.80,252.40" fill="none" stroke="#d33c35" stroke-width="1.4" stroke-linejoin="round"/>
<polyline points="93.30,193.50 93.80,193.50 93.80,194.40 94.80,194.40 94.80,196.40 95.75,196.40 95.75,195.40 96.45,195.40 96.45,197.00 97.20,197.00 97.20,200.70 98.15,200.70 98.15,192.00 98.85,192.00 98.85,203.00 99.35,203.00 99.35,196.00 100.05,196.00 100.05,205.00 101.00,205.00 101.00,210.00 101.75,210.00 101.75,190.00 102.45,190.00 102.45,187.00 103.15,187.00 103.15,195.00 103.90,195.00 103.90,204.00 104.85,204.00 104.85,199.00 105.80,199.00 105.80,189.00 106.55,189.00 106.55,189.00 107.00,189.00 107.00,184.90 107.45,184.90 107.45,179.10 107.95,179.10 107.95,175.30 108.65,175.30 108.65,177.20 109.60,177.20 109.60,179.10 110.35,179.10 110.35,177.20 111.05,177.20 111.05,98.70 111.95,98.70 111.95,92.00 113.10,92.00 113.10,102.50 114.35,102.50 114.35,114.00 115.60,114.00 115.60,123.60 116.95,123.60 116.95,131.00 118.35,131.00 118.35,133.00 119.60,133.00 119.60,138.90 120.35,138.90 120.35,145.00 120.95,145.00 120.95,152.90 121.65,152.90 121.65,158.20 122.30,158.20 122.30,162.10 122.95,162.10 122.95,166.10 123.60,166.10 123.60,170.00 124.25,170.00 124.25,175.30 124.90,175.30 124.90,179.20 125.55,179.20 125.55,181.80 126.25,181.80 126.25,184.50 126.90,184.50 126.90,187.10 127.55,187.10 127.55,188.40 128.20,188.40 128.20,189.70 128.85,189.70 128.85,191.10 129.50,191.10 129.50,192.40 130.15,192.40 130.15,195.00 130.85,195.00 130.85,196.30 131.85,196.30 131.85,197.60 133.25,197.60 133.25,200.00 134.50,200.00 134.50,203.00 135.50,203.00 135.50,206.00 136.50,206.00 136.50,210.00 137.50,210.00 137.50,214.00 138.50,214.00 138.50,211.00 139.10,211.00 139.10,210.00 139.85,210.00 139.85,200.00 141.00,200.00 141.00,160.00 142.00,160.00 142.00,130.00 143.00,130.00 143.00,128.00 143.85,128.00 143.85,150.00 144.70,150.00 144.70,172.00 145.60,172.00 145.60,174.40 146.45,174.40 146.45,179.10 147.15,179.10 147.15,180.10 147.65,180.10 147.65,183.90 148.35,183.90 148.35,184.90 149.05,184.90 149.05,187.80 149.80,187.80 149.80,193.00 150.75,193.00 150.75,199.80 151.45,199.80 151.45,204.60 151.95,204.60 151.95,203.60 152.45,203.60 152.45,200.70 152.90,200.70 152.90,196.90 153.35,196.90 153.35,197.90 154.10,197.90 154.10,196.90 154.80,196.90 154.80,185.00 155.25,185.00 155.25,179.10 155.75,179.10 155.75,195.00 156.25,195.00 156.25,199.80 156.95,199.80 156.95,202.70 157.65,202.70 157.65,206.50 158.15,206.50 158.15,209.40 158.90,209.40 158.90,213.20 159.60,213.20 159.60,215.10 160.05,215.10 160.05,212.20 160.55,212.20 160.55,206.50 161.05,206.50 161.05,199.80 161.55,199.80 161.55,192.00 162.00,192.00 162.00,184.90 162.45,184.90 162.45,188.70 162.95,188.70 162.95,191.60 163.65,191.60 163.65,192.50 164.60,192.50 164.60,193.50 165.60,193.50 165.60,193.50 166.55,193.50 166.55,195.00 167.70,195.00 167.70,196.90 168.90,196.90 168.90,198.80 169.90,198.80 169.90,200.70 170.85,200.70 170.85,204.60 171.65,204.60 171.65,206.90 172.40,206.90 172.40,211.90 173.25,211.90 173.25,215.20 174.12,215.20 174.12,216.90 174.98,216.90 174.98,218.60 176.20,218.60 176.20,220.30 177.45,220.30 177.45,223.60 178.30,223.60 178.30,221.90 179.10,221.90 179.10,218.60 179.95,218.60 179.95,216.90 180.80,216.90 180.80,213.60 181.65,213.60 181.65,210.20 182.50,210.20 182.50,208.50 183.30,208.50 183.30,203.50 184.15,203.50 184.15,206.90 185.00,206.90 185.00,203.50 185.80,203.50 185.80,196.80 186.65,196.80 186.65,193.50 187.50,193.50 187.50,195.10 188.35,195.10 188.35,201.80 189.20,201.80 189.20,198.50 190.00,198.50 190.00,200.20 190.85,200.20 190.85,208.50 191.70,208.50 191.70,211.90 192.50,211.90 192.50,215.20 193.35,215.20 193.35,218.60 194.23,218.60 194.23,221.10 195.07,221.10 195.07,223.60 196.30,223.60 196.30,228.60 197.52,228.60 197.52,231.15 198.38,231.15 198.38,233.70 199.20,233.70 199.20,237.00 200.20,237.00 200.20,248.70 201.25,248.70 201.25,252.30 202.15,252.30 202.15,255.90 203.30,255.90 203.30,263.00 204.55,263.00 204.55,264.90 205.45,264.90 205.45,261.30 206.10,261.30 206.10,249.80 206.65,249.80 206.65,221.60 207.60,221.60 207.60,214.40 209.00,214.40 209.00,211.60 210.10,211.60 210.10,215.90 211.20,215.90 211.20,208.70 212.60,208.70 212.60,207.30 214.05,207.30 214.05,205.80 215.50,205.80 215.50,197.20 216.90,197.20 216.90,188.60 218.35,188.60 218.35,182.90 219.25,182.90 219.25,176.50 219.75,176.50 219.75,164.80 220.85,164.80 220.85,176.50 222.15,176.50 222.15,195.80 223.40,195.80 223.40,200.10 224.80,200.10 224.80,203.00 226.25,203.00 226.25,201.50 227.70,201.50 227.70,198.70 229.10,198.70 229.10,197.20 230.55,197.20 230.55,198.70 231.65,198.70 231.65,200.10 232.70,200.10 232.70,204.40 233.80,204.40 233.80,208.70 234.55,208.70 234.55,213.00 235.25,213.00 235.25,223.10 235.95,223.10 235.95,230.20 236.65,230.20 236.65,237.40 237.40,237.40 237.40,251.00 238.05,251.00 238.05,200.00 238.40,200.00 238.40,191.50 238.85,191.50 238.85,192.90 239.55,192.90 239.55,198.70 240.25,198.70 240.25,204.40 240.95,204.40 240.95,213.00 241.65,213.00 241.65,223.10 242.40,223.10 242.40,234.50 243.05,234.50 243.05,245.00 243.50,245.00 243.50,252.70 244.20,252.70 244.20,273.70 245.15,273.70 245.15,292.80 246.07,292.80 246.07,296.65 247.03,296.65 247.03,300.50 248.30,300.50 248.30,302.40 249.75,302.40 249.75,296.70 250.90,296.70 250.90,290.90 251.70,290.90 251.70,264.10 252.65,264.10 252.65,268.00 253.78,268.00 253.78,270.85 254.72,270.85 254.72,273.70 255.67,273.70 255.67,271.80 256.62,271.80 256.62,269.90 257.58,269.90 257.58,267.95 258.52,267.95 258.52,266.00 259.48,266.00 259.48,264.10 260.42,264.10 260.42,262.20 261.30,262.20 261.30,258.40 262.10,258.40 262.10,254.60 263.00,254.60 263.00,235.00 263.90,235.00 263.90,219.95 264.70,219.95 264.70,204.90 265.65,204.90 265.65,165.10 266.60,165.10 266.60,168.50 267.45,168.50 267.45,171.80 268.30,171.80 268.30,175.20 269.10,175.20 269.10,180.20 269.95,180.20 269.95,183.60 270.80,183.60 270.80,186.90 271.60,186.90 271.60,190.30 272.45,190.30 272.45,191.90 273.30,191.90 273.30,193.60 274.40,193.60 274.40,185.20 275.40,185.20 275.40,185.20 275.95,185.20 275.95,190.30 276.65,190.30 276.65,205.10 277.53,205.10 277.53,206.75 278.38,206.75 278.38,208.40 279.60,208.40 279.60,213.50 280.82,213.50 280.82,214.30 281.68,214.30 281.68,215.10 282.53,215.10 282.53,213.45 283.38,213.45 283.38,211.80 284.23,211.80 284.23,209.30 285.07,209.30 285.07,206.80 285.90,206.80 285.90,203.45 286.70,203.45 286.70,200.10 287.55,200.10 287.55,195.00 288.40,195.00 288.40,193.40 289.23,193.40 289.23,195.90 290.07,195.90 290.07,198.40 290.93,198.40 290.93,202.60 291.77,202.60 291.77,206.80 292.60,206.80 292.60,215.15 293.40,215.15 293.40,223.50 294.23,223.50 294.23,231.90 295.07,231.90 295.07,240.30 295.93,240.30 295.93,244.50 296.77,244.50 296.77,248.70 297.70,248.70 297.70,252.50 298.65,252.50 298.65,258.30 299.60,258.30 299.60,264.00 300.60,264.00 300.60,269.80 301.55,269.80 301.55,275.50 302.50,275.50 302.50,283.20 303.45,283.20 303.45,288.90 304.40,288.90 304.40,283.20 305.38,283.20 305.38,279.35 306.33,279.35 306.33,275.50 307.27,275.50 307.27,271.65 308.23,271.65 308.23,267.80 309.20,267.80 309.20,271.70 310.17,271.70 310.17,274.55 311.12,274.55 311.12,277.40 312.20,277.40 312.20,280.00 313.20,280.00 313.20,310.00 314.25,310.00 314.25,157.00 315.20,157.00 315.20,156.80 315.85,156.80 315.85,169.10 316.80,169.10 316.80,170.30 318.00,170.30 318.00,173.90 319.20,173.90 319.20,177.50 320.40,177.50 320.40,179.90 321.60,179.90 321.60,178.70 322.80,178.70 322.80,181.10 324.00,181.10 324.00,178.70 325.20,178.70 325.20,179.90 326.40,179.90 326.40,176.30 327.55,176.30 327.55,173.90 328.70,173.90 328.70,152.40 329.60,152.40 329.60,159.60 330.20,159.60 330.20,173.90 331.10,173.90 331.10,177.50 332.30,177.50 332.30,181.10 333.50,181.10 333.50,183.50 334.70,183.50 334.70,185.90 335.90,185.90 335.90,188.30 336.90,188.30 336.90,191.70 337.73,191.70 337.73,193.35 338.57,193.35 338.57,195.00 339.40,195.00 339.40,196.70 340.20,196.70 340.20,198.40 341.03,198.40 341.03,200.10 341.88,200.10 341.88,201.80 342.75,201.80 342.75,206.80 343.60,206.80 343.60,218.50 344.40,218.50 344.40,226.90 345.30,226.90 345.30,196.00 346.10,196.00 346.10,203.50 346.80,203.50 346.80,197.65 347.60,197.65 347.60,191.80 348.43,191.80 348.43,193.45 349.27,193.45 349.27,195.10 350.12,195.10 350.12,195.95 350.97,195.95 350.97,196.80 351.80,196.80 351.80,197.65 352.60,197.65 352.60,198.50 353.43,198.50 353.43,197.65 354.27,197.65 354.27,196.80 355.12,196.80 355.12,197.65 355.97,197.65 355.97,198.50 356.82,198.50 356.82,199.35 357.68,199.35 357.68,200.20 358.53,200.20 358.53,201.00 359.38,201.00 359.38,201.80 360.20,201.80 360.20,203.50 361.00,203.50 361.00,191.80 361.82,191.80 361.82,187.60 362.68,187.60 362.68,183.40 363.53,183.40 363.53,181.70 364.38,181.70 364.38,180.00 365.23,180.00 365.23,180.85 366.07,180.85 366.07,181.70 366.90,181.70 366.90,180.85 367.70,180.85 367.70,180.00 368.53,180.00 368.53,179.20 369.38,179.20 369.38,178.40 370.23,178.40 370.23,177.55 371.07,177.55 371.07,176.70 371.93,176.70 371.93,175.05 372.77,175.05 372.77,173.40 373.85,173.40 373.85,168.00 374.93,168.00 374.93,133.00 375.77,133.00 375.77,98.00 376.80,98.00 376.80,101.80 377.80,101.80 377.80,106.80 378.60,106.80 378.60,110.10 379.45,110.10 379.45,113.50 380.30,113.50 380.30,115.20 381.10,115.20 381.10,116.80 381.95,116.80 381.95,121.90 382.80,121.90 382.80,125.20 383.65,125.20 383.65,128.60 384.50,128.60 384.50,130.20 385.30,130.20 385.30,133.60 386.15,133.60 386.15,136.90 387.05,136.90 387.05,156.80 387.95,156.80 387.95,163.50 388.80,163.50 388.80,165.10 389.65,165.10 389.65,163.50 390.90,163.50 390.90,160.10 392.12,160.10 392.12,158.45 392.97,158.45 392.97,156.80 393.82,156.80 393.82,155.10 394.68,155.10 394.68,153.40 395.53,153.40 395.53,151.75 396.38,151.75 396.38,150.10 397.60,150.10 397.60,146.70 398.82,146.70 398.82,145.05 399.68,145.05 399.68,143.40 400.50,143.40 400.50,146.70 401.32,146.70 401.32,145.05 402.18,145.05 402.18,143.40 403.40,143.40 403.40,138.60 404.60,138.60 404.60,131.80 405.40,131.80 405.40,138.50 406.25,138.50 406.25,141.80 407.10,141.80 407.10,138.50 407.95,138.50 407.95,136.80 408.80,136.80 408.80,137.65 409.60,137.65 409.60,138.50 410.45,138.50 410.45,136.80 411.30,136.80 411.30,140.20 412.10,140.20 412.10,151.90 412.95,151.90 412.95,160.30 413.80,160.30 413.80,161.90 414.60,161.90 414.60,156.90 415.45,156.90 415.45,140.20 416.15,140.20 416.15,145.00 417.15,145.00 417.15,149.00 418.60,149.00 418.60,154.00 420.00,154.00 420.00,160.00 421.45,160.00 421.45,166.00 422.90,166.00 422.90,170.00 424.30,170.00 424.30,175.00 425.75,175.00 425.75,180.00 427.20,180.00 427.20,185.00 428.25,185.00 428.25,193.00 429.00,193.00 429.00,190.00 429.75,190.00 429.75,178.00 430.45,178.00 430.45,172.00 431.50,172.00 431.50,167.30 432.55,167.30 432.55,163.00 433.30,163.00 433.30,161.50 434.40,161.50 434.40,154.40 435.90,154.40 435.90,92.40 437.15,92.40 437.15,85.90 437.90,85.90 437.90,79.00 438.50,79.00 438.50,80.00 439.10,80.00 439.10,85.90 439.90,85.90 439.90,92.00 441.00,92.00 441.00,102.20 442.20,102.20 442.20,108.20 443.40,108.20 443.40,112.90 444.60,112.90 444.60,116.50 445.80,116.50 445.80,120.10 447.00,120.10 447.00,123.70 448.20,123.70 448.20,126.10 449.40,126.10 449.40,128.50 450.60,128.50 450.60,132.10 451.80,132.10 451.80,134.50 453.00,134.50 453.00,138.10 454.15,138.10 454.15,140.50 455.10,140.50 455.10,141.27 455.90,141.27 455.90,142.03 456.70,142.03 456.70,142.80 457.70,142.80 457.70,143.40 458.90,143.40 458.90,144.00 460.05,144.00 460.05,144.80 461.08,144.80 461.08,144.80 462.02,144.80 462.02,144.80 462.98,144.80 462.98,145.25 463.92,145.25 463.92,145.70 464.90,145.70 464.90,146.20 465.90,146.20 465.90,146.70 466.88,146.70 466.88,147.15 467.83,147.15 467.83,147.60 468.77,147.60 468.77,147.15 469.73,147.15 469.73,146.70 470.67,146.70 470.67,146.50 471.62,146.50 471.62,146.30 472.58,146.30 472.58,146.00 473.52,146.00 473.52,145.70 474.48,145.70 474.48,145.70 475.42,145.70 475.42,145.70 476.35,145.70 476.35,146.13 477.25,146.13 477.25,146.57 478.15,146.57 478.15,147.00 479.10,147.00 479.10,159.10 480.05,159.10 480.05,178.30 481.00,178.30 481.00,188.00 481.98,188.00 481.98,192.50 482.92,192.50 482.92,197.00 483.88,197.00 483.88,200.00 484.83,200.00 484.83,203.00 485.77,203.00 485.77,205.50 486.73,205.50 486.73,208.00 487.67,208.00 487.67,210.50 488.62,210.50 488.62,213.00 489.60,213.00 489.60,214.50 490.60,214.50 490.60,216.00 491.58,216.00 491.58,217.00 492.52,217.00 492.52,218.00 493.48,218.00 493.48,219.00 494.42,219.00 494.42,220.00 495.38,220.00 495.38,221.25 496.33,221.25 496.33,222.50 497.27,222.50 497.27,224.05 498.23,224.05 498.23,225.60 499.10,225.60 499.10,228.00 499.75,228.00 499.75,160.00 500.30,160.00 500.30,159.10 501.08,159.10 501.08,180.90 502.02,180.90 502.02,202.70 502.98,202.70 502.98,205.55 503.92,205.55 503.92,208.40 504.90,208.40 504.90,211.25 505.90,211.25 505.90,214.10 506.88,214.10 506.88,215.10 507.83,215.10 507.83,216.10 508.75,216.10 508.75,204.60 509.70,204.60 509.70,214.10 510.67,214.10 510.67,210.30 511.62,210.30 511.62,206.50 512.58,206.50 512.58,203.60 513.52,203.60 513.52,200.70 514.48,200.70 514.48,196.85 515.42,196.85 515.42,193.00 516.38,193.00 516.38,196.00 517.32,196.00 517.32,199.00 518.30,199.00 518.30,201.50 519.30,201.50 519.30,204.00 520.27,204.00 520.27,204.50 521.23,204.50 521.23,205.00 522.18,205.00 522.18,207.65 523.12,207.65 523.12,210.30 524.08,210.30 524.08,215.10 525.02,215.10 525.02,219.90 525.98,219.90 525.98,223.70 526.92,223.70 526.92,227.50 527.90,227.50 527.90,229.40 528.85,229.40 528.85,150.00 529.70,150.00 529.70,85.00 530.55,85.00 530.55,100.00 531.10,100.00 531.10,178.30 531.70,178.30 531.70,181.15 532.70,181.15 532.70,184.00 533.68,184.00 533.68,184.95 534.62,184.95 534.62,185.90 535.55,185.90 535.55,185.15 536.45,185.15 536.45,184.40 537.40,184.40 537.40,178.30 538.20,178.30 538.20,180.00 538.85,180.00 538.85,136.00 539.85,136.00 539.85,134.00 541.15,134.00 541.15,140.00 542.25,140.00 542.25,170.00 543.15,170.00 543.15,188.30 544.10,188.30 544.10,203.60 545.05,203.60 545.05,218.00 546.00,218.00 546.00,221.50 546.95,221.50 546.95,218.80 547.90,218.80 547.90,222.00 548.90,222.00 548.90,219.00 549.85,219.00 549.85,220.70 550.77,220.70 550.77,216.95 551.73,216.95 551.73,213.20 552.70,213.20 552.70,207.40 553.65,207.40 553.65,213.20 554.80,213.20 554.80,225.00 555.80,225.00 555.80,243.70 556.55,243.70 556.55,253.30 557.50,253.30 557.50,262.80 558.48,262.80 558.48,266.65 559.42,266.65 559.42,270.50 560.38,270.50 560.38,272.40 561.32,272.40 561.32,274.30 562.27,274.30 562.27,275.65 563.23,275.65 563.23,277.00 564.18,277.00 564.18,278.00 565.12,278.00 565.12,279.00 566.08,279.00 566.08,279.55 567.02,279.55 567.02,280.10 567.98,280.10 567.98,280.30 568.92,280.30 568.92,280.50 569.90,280.50 569.90,281.25 570.90,281.25 570.90,282.00 571.88,282.00 571.88,282.25 572.82,282.25 572.82,282.50 573.77,282.50 573.77,283.25 574.73,283.25 574.73,284.00 575.90,284.00 575.90,288.40 577.05,288.40 577.05,298.00 578.00,298.00 578.00,305.60 578.98,305.60 578.98,307.55 579.92,307.55 579.92,309.50 580.88,309.50 580.88,311.40 581.82,311.40 581.82,313.30 582.77,313.30 582.77,314.25 583.73,314.25 583.73,315.20 584.68,315.20 584.68,316.15 585.62,316.15 585.62,317.10 586.60,317.10 586.60,318.05 587.60,318.05 587.60,319.00 588.58,319.00 588.58,319.95 589.52,319.95 589.52,320.90 590.45,320.90 590.45,317.10 591.40,317.10 591.40,294.10 592.20,294.10 592.20,200.00 593.05,200.00 593.05,121.80 594.10,121.80 594.10,127.50 595.05,127.50 595.05,139.00 596.20,139.00 596.20,148.60 597.55,148.60 597.55,169.10 598.68,169.10 598.68,173.90 599.62,173.90 599.62,178.70 600.58,178.70 600.58,182.55 601.52,182.55 601.52,186.40 602.45,186.40 602.45,188.30 603.40,188.30 603.40,192.10 604.40,192.10 604.40,157.70 605.38,157.70 605.38,158.65 606.32,158.65 606.32,159.60 607.27,159.60 607.27,158.65 608.23,158.65 608.23,157.70 609.18,157.70 609.18,159.60 610.12,159.60 610.12,161.50 611.08,161.50 611.08,160.55 612.02,160.55 612.02,159.60 613.05,159.60 613.05,158.90 614.15,158.90 614.15,158.20 615.18,158.20 615.18,158.20 616.12,158.20 616.12,158.20 617.08,158.20 617.08,161.05 618.02,161.05 618.02,163.90 618.98,163.90 618.98,163.90 619.92,163.90 619.92,163.90 620.75,163.90 620.75,169.60 621.58,169.60 621.58,174.35 622.52,174.35 622.52,179.10 623.48,179.10 623.48,182.95 624.42,182.95 624.42,186.80 625.38,186.80 625.38,191.60 626.32,191.60 626.32,196.40 627.27,196.40 627.27,199.25 628.23,199.25 628.23,202.10 629.18,202.10 629.18,204.95 630.12,204.95 630.12,207.80 631.10,207.80 631.10,211.70 632.05,211.70 632.05,217.40 632.70,217.40 632.70,136.00 633.38,136.00 633.38,135.23 634.35,135.23 634.35,134.47 635.32,134.47 635.32,133.70 636.32,133.70 636.32,135.85 637.38,135.85 637.38,138.00 638.45,138.00 638.45,141.25 639.55,141.25 639.55,144.50 640.62,144.50 640.62,147.70 641.68,147.70 641.68,150.90 642.75,150.90 642.75,153.05 643.85,153.05 643.85,155.20 644.92,155.20 644.92,156.30 645.98,156.30 645.98,157.40 647.05,157.40 647.05,158.45 648.15,158.45 648.15,159.50 649.25,159.50 649.25,161.70 650.32,161.70 650.32,166.00 651.38,166.00 651.38,170.30 652.45,170.30 652.45,172.45 653.55,172.45 653.55,174.60 654.62,174.60 654.62,177.85 655.68,177.85 655.68,181.10 656.75,181.10 656.75,183.25 657.85,183.25 657.85,185.40 658.92,185.40 658.92,186.45 659.98,186.45 659.98,187.50 661.05,187.50 661.05,188.60 662.15,188.60 662.15,189.70 663.45,189.70 663.45,196.00 664.70,196.00 664.70,214.10 665.65,214.10 665.65,225.60 666.60,225.60 666.60,229.40 667.60,229.40 667.60,233.30 668.55,233.30 668.55,231.40 669.50,231.40 669.50,235.20 670.50,235.20 670.50,237.10 671.45,237.10 671.45,239.00 672.35,239.00 672.35,241.00 673.30,241.00 673.30,242.90 673.80,242.90" fill="none" stroke="#d6843f" stroke-width="1.4" stroke-linejoin="round"/>
<polyline points="93.30,185.80 93.80,185.80 93.80,186.80 94.80,186.80 94.80,188.70 95.75,188.70 95.75,187.80 96.55,187.80 96.55,180.10 97.30,180.10 97.30,179.10 97.90,179.10 97.90,183.90 98.35,183.90 98.35,174.40 98.85,174.40 98.85,173.40 99.35,173.40 99.35,176.30 99.80,176.30 99.80,183.90 100.25,183.90 100.25,190.60 100.75,190.60 100.75,191.60 101.25,191.60 101.25,184.90 101.85,184.90 101.85,168.60 102.55,168.60 102.55,168.60 103.15,168.60 103.15,171.50 103.65,171.50 103.65,172.40 104.15,172.40 104.15,171.50 104.60,171.50 104.60,186.80 105.05,186.80 105.05,196.40 105.55,196.40 105.55,188.70 106.05,188.70 106.05,179.10 106.50,179.10 106.50,174.40 106.95,174.40 106.95,169.60 107.45,169.60 107.45,161.90 108.10,161.90 108.10,158.00 109.00,158.00 109.00,160.00 109.90,160.00 109.90,158.00 110.45,158.00 110.45,94.00 111.05,94.00 111.05,86.30 111.95,86.30 111.95,78.60 113.10,78.60 113.10,84.40 114.35,84.40 114.35,89.00 115.30,89.00 115.30,108.00 116.45,108.00 116.45,102.50 117.70,102.50 117.70,108.00 118.50,108.00 118.50,119.80 119.45,119.80 119.45,125.50 120.75,125.50 120.75,135.00 121.70,135.00 121.70,145.00 122.65,145.00 122.65,152.90 123.60,152.90 123.60,160.80 124.25,160.80 124.25,166.10 124.90,166.10 124.90,167.40 125.55,167.40 125.55,170.00 126.25,170.00 126.25,167.40 126.90,167.40 126.90,171.30 127.55,171.30 127.55,166.10 128.20,166.10 128.20,172.60 128.85,172.60 128.85,176.60 129.50,176.60 129.50,170.00 130.15,170.00 130.15,173.90 130.85,173.90 130.85,180.50 131.50,180.50 131.50,171.30 132.15,171.30 132.15,164.70 132.80,164.70 132.80,171.30 133.45,171.30 133.45,184.50 134.10,184.50 134.10,188.40 134.75,188.40 134.75,193.70 135.45,193.70 135.45,184.50 136.10,184.50 136.10,171.30 136.75,171.30 136.75,166.10 137.40,166.10 137.40,160.80 138.05,160.80 138.05,171.30 138.75,171.30 138.75,176.60 139.40,176.60 139.40,184.50 140.05,184.50 140.05,171.30 140.75,171.30 140.75,114.00 141.52,114.00 141.52,106.67 142.35,106.67 142.35,99.33 143.18,99.33 143.18,92.00 144.07,92.00 144.07,112.50 145.03,112.50 145.03,133.00 146.25,133.00 146.25,141.00 147.75,141.00 147.75,140.00 149.25,140.00 149.25,150.00 150.60,150.00 150.60,176.30 151.45,176.30 151.45,176.30 151.95,176.30 151.95,160.00 152.65,160.00 152.65,150.00 153.60,150.00 153.60,147.00 154.55,147.00 154.55,160.00 155.25,160.00 155.25,176.30 156.00,176.30 156.00,176.30 156.95,176.30 156.95,177.20 157.65,177.20 157.65,186.80 158.15,186.80 158.15,188.70 158.65,188.70 158.65,196.00 159.35,196.00 159.35,202.70 160.05,202.70 160.05,201.70 160.55,201.70 160.55,197.90 161.05,197.90 161.05,185.00 161.50,185.00 161.50,179.10 161.95,179.10 161.95,163.80 162.45,163.80 162.45,163.80 162.95,163.80 162.95,169.60 163.45,169.60 163.45,171.50 164.15,171.50 164.15,172.40 164.85,172.40 164.85,176.30 165.60,176.30 165.60,177.20 166.55,177.20 166.55,179.10 167.50,179.10 167.50,183.00 168.20,183.00 168.20,188.70 168.90,188.70 168.90,188.70 169.90,188.70 169.90,189.70 170.85,189.70 170.85,192.50 171.65,192.50 171.65,195.10 172.40,195.10 172.40,203.50 173.25,203.50 173.25,205.20 174.10,205.20 174.10,208.50 174.95,208.50 174.95,211.90 175.80,211.90 175.80,215.20 176.60,215.20 176.60,213.60 177.45,213.60 177.45,211.90 178.30,211.90 178.30,211.90 179.10,211.90 179.10,210.20 179.95,210.20 179.95,208.50 180.80,208.50 180.80,205.20 181.65,205.20 181.65,203.50 182.50,203.50 182.50,200.20 183.30,200.20 183.30,196.80 184.15,196.80 184.15,198.50 185.00,198.50 185.00,193.50 185.80,193.50 185.80,183.40 186.65,183.40 186.65,181.70 187.50,181.70 187.50,185.10 188.35,185.10 188.35,191.80 189.20,191.80 189.20,181.70 190.00,181.70 190.00,181.70 190.85,181.70 190.85,190.10 191.70,190.10 191.70,200.20 192.50,200.20 192.50,203.50 193.35,203.50 193.35,210.20 194.20,210.20 194.20,213.60 195.05,213.60 195.05,216.90 195.90,216.90 195.90,220.30 196.70,220.30 196.70,221.90 197.55,221.90 197.55,223.60 198.40,223.60 198.40,225.30 199.20,225.30 199.20,228.60 200.05,228.60 200.05,233.70 201.03,233.70 201.03,237.60 202.07,237.60 202.07,241.50 203.30,241.50 203.30,246.90 204.65,246.90 204.65,248.70 205.70,248.70 205.70,243.30 206.15,243.30 206.15,210.10 206.55,210.10 206.55,205.80 207.25,205.80 207.25,204.40 208.30,204.40 208.30,203.00 209.75,203.00 209.75,194.40 210.85,194.40 210.85,192.90 211.55,192.90 211.55,198.70 212.25,198.70 212.25,201.50 212.95,201.50 212.95,195.80 214.05,195.80 214.05,192.90 215.15,192.90 215.15,188.60 216.20,188.60 216.20,184.30 217.25,184.30 217.25,182.90 218.05,182.90 218.05,168.75 218.95,168.75 218.95,154.60 219.95,154.60 219.95,148.00 221.05,148.00 221.05,156.00 222.10,156.00 222.10,156.00 222.80,156.00 222.80,172.00 223.00,172.00 223.00,172.00 223.40,172.00 223.40,178.00 223.80,178.00 223.80,178.00 224.50,178.00 224.50,176.50 225.20,176.50 225.20,176.50 225.95,176.50 225.95,173.60 226.70,173.60 226.70,173.60 227.40,173.60 227.40,172.80 228.10,172.80 228.10,172.80 228.50,172.80 228.50,178.00 228.90,178.00 228.90,178.00 229.60,178.00 229.60,178.00 230.30,178.00 230.30,178.00 230.70,178.00 230.70,182.30 231.10,182.30 231.10,182.30 231.55,182.30 231.55,184.30 232.70,184.30 232.70,188.60 234.15,188.60 234.15,194.40 235.25,194.40 235.25,198.70 235.95,198.70 235.95,208.70 236.65,208.70 236.65,223.10 237.30,223.10 237.30,239.00 237.90,239.00 237.90,200.00 238.35,200.00 238.35,182.90 239.20,182.90 239.20,182.90 240.25,182.90 240.25,188.60 240.95,188.60 240.95,194.40 241.65,194.40 241.65,200.10 242.15,200.10 242.15,215.90 242.55,215.90 242.55,227.40 243.00,227.40 243.00,237.40 243.45,237.40 243.45,218.00 244.20,218.00 244.20,235.50 245.15,235.50 245.15,260.00 246.05,260.00 246.05,280.00 247.00,280.00 247.00,289.00 248.30,289.00 248.30,292.80 249.75,292.80 249.75,291.00 250.90,291.00 250.90,283.30 251.55,283.30 251.55,254.60 251.95,254.60 251.95,245.00 252.75,245.00 252.75,258.40 253.78,258.40 253.78,261.25 254.72,261.25 254.72,264.10 255.67,264.10 255.67,263.15 256.62,263.15 256.62,262.20 257.58,262.20 257.58,259.35 258.52,259.35 258.52,256.50 259.50,256.50 259.50,248.80 260.48,248.80 260.48,247.85 261.42,247.85 261.42,246.90 262.35,246.90 262.35,237.40 263.60,237.40 263.60,199.00 264.90,199.00 264.90,147.00 265.80,147.00 265.80,146.70 266.45,146.70 266.45,156.80 267.30,156.80 267.30,158.40 268.30,158.40 268.30,161.80 269.10,161.80 269.10,166.80 269.95,166.80 269.95,170.20 270.80,170.20 270.80,173.50 271.60,173.50 271.60,176.90 272.45,176.90 272.45,180.20 273.30,180.20 273.30,181.90 274.40,181.90 274.40,163.50 275.40,163.50 275.40,161.80 275.95,161.80 275.95,173.50 276.65,173.50 276.65,181.90 277.50,181.90 277.50,185.20 278.35,185.20 278.35,188.60 279.20,188.60 279.20,190.30 280.00,190.30 280.00,193.60 280.85,193.60 280.85,195.30 281.70,195.30 281.70,193.60 282.75,193.60 282.75,190.30 284.00,190.30 284.00,188.60 285.05,188.60 285.05,185.20 285.90,185.20 285.90,183.60 286.70,183.60 286.70,176.90 287.55,176.90 287.55,175.20 288.40,175.20 288.40,175.20 289.20,175.20 289.20,178.50 290.05,178.50 290.05,176.90 290.90,176.90 290.90,183.60 291.75,183.60 291.75,190.30 292.60,190.30 292.60,196.70 293.43,196.70 293.43,201.75 294.27,201.75 294.27,206.80 295.10,206.80 295.10,215.10 295.90,215.10 295.90,220.00 296.77,220.00 296.77,223.85 297.73,223.85 297.73,227.70 298.65,227.70 298.65,235.30 299.60,235.30 299.60,238.20 300.60,238.20 300.60,241.10 301.55,241.10 301.55,248.70 302.50,248.70 302.50,258.30 303.45,258.30 303.45,267.80 304.40,267.80 304.40,269.80 305.35,269.80 305.35,264.00 306.30,264.00 306.30,258.30 307.30,258.30 307.30,239.10 308.25,239.10 308.25,233.40 309.20,233.40 309.20,239.10 310.15,239.10 310.15,244.90 311.10,244.90 311.10,241.10 312.05,241.10 312.05,244.90 313.00,244.90 313.00,273.60 313.65,273.60 313.65,146.80 314.25,146.80 314.25,136.70 315.10,136.70 315.10,136.70 315.75,136.70 315.75,143.40 316.35,143.40 316.35,145.10 317.35,145.10 317.35,145.10 318.45,145.10 318.45,146.80 319.30,146.80 319.30,150.10 320.10,150.10 320.10,153.50 320.95,153.50 320.95,156.80 321.80,156.80 321.80,153.50 322.65,153.50 322.65,151.80 323.50,151.80 323.50,150.10 324.30,150.10 324.30,150.10 325.15,150.10 325.15,146.80 326.00,146.80 326.00,143.40 326.80,143.40 326.80,140.10 327.65,140.10 327.65,138.40 328.50,138.40 328.50,132.50 329.35,132.50 329.35,136.70 330.05,136.70 330.05,141.70 330.45,141.70 330.45,155.10 331.00,155.10 331.00,156.80 331.85,156.80 331.85,158.50 332.70,158.50 332.70,161.80 333.50,161.80 333.50,163.50 334.35,163.50 334.35,168.50 335.20,168.50 335.20,170.20 336.03,170.20 336.03,171.05 336.88,171.05 336.88,171.90 337.73,171.90 337.73,172.75 338.57,172.75 338.57,173.60 339.40,173.60 339.40,174.40 340.20,174.40 340.20,175.20 341.05,175.20 341.05,176.90 341.90,176.90 341.90,173.60 342.75,173.60 342.75,176.90 343.60,176.90 343.60,178.60 344.40,178.60 344.40,148.40 345.25,148.40 345.25,150.10 346.10,150.10 346.10,176.90 347.20,176.90 347.20,183.00 348.60,183.00 348.60,186.00 349.50,186.00 349.50,170.00 350.10,170.00 350.10,160.00 350.75,160.00 350.75,153.00 351.20,153.00 351.20,185.10 351.80,185.10 351.80,186.75 352.60,186.75 352.60,188.40 353.43,188.40 353.43,189.25 354.27,189.25 354.27,190.10 355.12,190.10 355.12,190.95 355.97,190.95 355.97,191.80 356.82,191.80 356.82,190.95 357.68,190.95 357.68,190.10 358.53,190.10 358.53,191.80 359.38,191.80 359.38,193.50 360.20,193.50 360.20,195.10 361.00,195.10 361.00,186.80 361.85,186.80 361.85,180.00 362.70,180.00 362.70,175.00 363.60,175.00 363.60,172.30 364.62,172.30 364.62,165.85 365.67,165.85 365.67,159.40 366.75,159.40 366.75,168.00 367.85,168.00 367.85,166.90 368.95,166.90 368.95,165.80 370.02,165.80 370.02,159.35 371.08,159.35 371.08,152.90 372.03,152.90 372.03,149.70 372.88,149.70 372.88,146.50 373.80,146.50 373.80,148.30 374.85,148.30 374.85,125.30 375.70,125.30 375.70,90.00 376.25,90.00 376.25,90.00 376.95,90.00 376.95,98.40 377.80,98.40 377.80,101.80 378.60,101.80 378.60,103.40 379.45,103.40 379.45,105.10 380.30,105.10 380.30,105.10 381.10,105.10 381.10,108.50 381.95,108.50 381.95,110.10 382.80,110.10 382.80,113.50 383.65,113.50 383.65,115.20 384.50,115.20 384.50,118.50 385.30,118.50 385.30,115.20 386.15,115.20 386.15,118.50 387.00,118.50 387.00,126.90 387.80,126.90 387.80,131.90 388.65,131.90 388.65,136.90 389.50,136.90 389.50,140.30 390.35,140.30 390.35,138.60 391.60,138.60 391.60,135.30 392.82,135.30 392.82,134.45 393.68,134.45 393.68,133.60 394.53,133.60 394.53,132.75 395.38,132.75 395.38,131.90 396.23,131.90 396.23,131.05 397.07,131.05 397.07,130.20 397.90,130.20 397.90,130.20 398.70,130.20 398.70,130.20 399.53,130.20 399.53,129.40 400.38,129.40 400.38,128.60 401.23,128.60 401.23,126.90 402.07,126.90 402.07,125.20 402.93,125.20 402.93,121.85 403.77,121.85 403.77,118.50 404.60,118.50 404.60,115.00 405.40,115.00 405.40,116.70 406.25,116.70 406.25,120.00 407.10,120.00 407.10,123.40 407.95,123.40 407.95,121.70 408.80,121.70 408.80,118.40 409.60,118.40 409.60,120.00 410.45,120.00 410.45,116.70 411.30,116.70 411.30,116.70 412.10,116.70 412.10,123.40 412.95,123.40 412.95,140.20 413.80,140.20 413.80,145.20 414.60,145.20 414.60,143.50 415.45,143.50 415.45,123.40 416.30,123.40 416.30,116.70 417.15,116.70 417.15,120.00 418.00,120.00 418.00,125.10 418.80,125.10 418.80,128.40 419.65,128.40 419.65,131.80 420.50,131.80 420.50,133.50 421.35,133.50 421.35,136.80 422.20,136.80 422.20,140.20 423.00,140.20 423.00,141.80 423.85,141.80 423.85,143.50 424.70,143.50 424.70,145.20 425.50,145.20 425.50,146.90 426.35,146.90 426.35,150.20 427.35,150.20 427.35,150.00 428.25,150.00 428.25,165.80 429.00,165.80 429.00,150.00 430.10,150.00 430.10,145.70 431.50,145.70 431.50,142.90 432.95,142.90 432.95,145.70 434.40,145.70 434.40,144.30 435.25,144.30 435.25,84.80 436.05,84.80 436.05,84.80 437.00,84.80 437.00,44.60 437.65,44.60 437.65,44.60 438.10,44.60 438.10,75.20 438.50,75.20 438.50,77.60 439.10,77.60 439.10,80.00 439.70,80.00 439.70,84.70 440.30,84.70 440.30,88.30 441.10,88.30 441.10,95.00 442.20,95.00 442.20,99.80 443.40,99.80 443.40,102.20 444.60,102.20 444.60,104.60 445.80,104.60 445.80,108.20 447.00,108.20 447.00,111.70 448.20,111.70 448.20,114.10 449.40,114.10 449.40,117.70 450.60,117.70 450.60,121.30 451.80,121.30 451.80,123.70 453.00,123.70 453.00,126.10 454.15,126.10 454.15,128.50 455.10,128.50 455.10,129.30 455.90,129.30 455.90,130.10 456.70,130.10 456.70,130.90 457.70,130.90 457.70,131.50 458.90,131.50 458.90,132.10 460.10,132.10 460.10,132.40 461.30,132.40 461.30,132.70 462.20,132.70 462.20,132.30 462.98,132.30 462.98,132.80 463.92,132.80 463.92,133.30 464.90,133.30 464.90,133.75 465.90,133.75 465.90,134.20 466.88,134.20 466.88,134.70 467.83,134.70 467.83,135.20 468.77,135.20 468.77,134.70 469.73,134.70 469.73,134.20 470.67,134.20 470.67,133.75 471.62,133.75 471.62,133.30 472.58,133.30 472.58,132.80 473.52,132.80 473.52,132.30 474.48,132.30 474.48,131.85 475.42,131.85 475.42,131.40 476.38,131.40 476.38,131.40 477.33,131.40 477.33,131.40 478.30,131.40 478.30,132.30 479.30,132.30 479.30,110.30 480.05,110.30 480.05,133.30 480.40,133.30 480.40,150.00 481.00,150.00 481.00,174.40 481.98,174.40 481.98,178.25 482.92,178.25 482.92,182.10 483.88,182.10 483.88,184.00 484.83,184.00 484.83,185.90 485.77,185.90 485.77,187.95 486.73,187.95 486.73,190.00 487.70,190.00 487.70,193.60 488.65,193.60 488.65,198.00 489.60,198.00 489.60,200.00 490.60,200.00 490.60,202.00 491.58,202.00 491.58,203.30 492.52,203.30 492.52,204.60 493.48,204.60 493.48,205.55 494.42,205.55 494.42,206.50 495.38,206.50 495.38,207.45 496.33,207.45 496.33,208.40 497.27,208.40 497.27,209.35 498.23,209.35 498.23,210.30 499.10,210.30 499.10,219.00 499.70,219.00 499.70,133.30 500.35,133.30 500.35,135.20 501.20,135.20 501.20,164.90 502.08,164.90 502.08,171.60 503.02,171.60 503.02,178.30 503.95,178.30 503.95,182.10 504.90,182.10 504.90,189.80 505.90,189.80 505.90,186.00 506.88,186.00 506.88,188.85 507.83,188.85 507.83,191.70 508.75,191.70 508.75,178.30 509.90,178.30 509.90,189.80 511.35,189.80 511.35,178.30 512.85,178.30 512.85,170.60 514.30,170.60 514.30,159.10 515.45,159.10 515.45,153.40 516.40,153.40 516.40,161.10 517.38,161.10 517.38,163.00 518.32,163.00 518.32,164.90 519.27,164.90 519.27,166.80 520.23,166.80 520.23,168.70 521.20,168.70 521.20,163.00 522.15,163.00 522.15,170.60 523.08,170.60 523.08,175.40 524.02,175.40 524.02,180.20 525.00,180.20 525.00,183.05 526.00,183.05 526.00,185.90 526.95,185.90 526.95,172.50 527.85,172.50 527.85,125.80 528.75,125.80 528.75,79.10 529.65,79.10 529.65,69.60 530.60,69.60 530.60,79.10 531.75,79.10 531.75,81.00 532.65,81.00 532.65,150.00 533.05,150.00 533.05,168.70 533.68,168.70 533.68,169.65 534.62,169.65 534.62,170.60 535.58,170.60 535.58,167.75 536.52,167.75 536.52,164.90 537.45,164.90 537.45,170.60 538.20,170.60 538.20,140.00 538.80,140.00 538.80,126.00 539.58,126.00 539.58,126.50 540.52,126.50 540.52,127.00 541.75,127.00 541.75,140.00 542.60,140.00 542.60,165.30 543.15,165.30 543.15,178.70 544.10,178.70 544.10,194.00 545.05,194.00 545.05,201.70 546.00,201.70 546.00,199.80 546.95,199.80 546.95,201.70 547.90,201.70 547.90,199.80 548.90,199.80 548.90,201.70 549.85,201.70 549.85,203.60 550.80,203.60 550.80,199.80 551.75,199.80 551.75,188.30 552.40,188.30 552.40,120.10 553.30,120.10 553.30,120.10 554.05,120.10 554.05,178.70 554.60,178.70 554.60,188.30 555.60,188.30 555.60,207.40 556.55,207.40 556.55,222.00 557.50,222.00 557.50,234.10 558.48,234.10 558.48,238.90 559.42,238.90 559.42,243.70 560.38,243.70 560.38,246.55 561.32,246.55 561.32,249.40 562.27,249.40 562.27,251.35 563.23,251.35 563.23,253.30 564.18,253.30 564.18,255.20 565.12,255.20 565.12,257.10 566.08,257.10 566.08,258.05 567.02,258.05 567.02,259.00 567.98,259.00 567.98,258.05 568.92,258.05 568.92,257.10 569.90,257.10 569.90,259.00 570.90,259.00 570.90,260.90 571.88,260.90 571.88,259.95 572.82,259.95 572.82,259.00 573.75,259.00 573.75,260.90 574.70,260.90 574.70,262.80 575.65,262.80 575.65,266.70 576.60,266.70 576.60,282.00 577.80,282.00 577.80,288.40 578.95,288.40 578.95,284.60 579.90,284.60 579.90,282.70 580.90,282.70 580.90,294.10 581.88,294.10 581.88,296.05 582.82,296.05 582.82,298.00 583.75,298.00 583.75,301.80 584.70,301.80 584.70,299.90 585.65,299.90 585.65,303.70 586.60,303.70 586.60,301.80 587.60,301.80 587.60,305.60 588.75,305.60 588.75,305.60 589.80,305.60 589.80,265.00 590.85,265.00 590.85,272.00 591.95,272.00 591.95,200.00 592.55,200.00 592.55,110.30 593.15,110.30 593.15,112.20 594.10,112.20 594.10,114.10 594.85,114.10 594.85,119.90 595.60,119.90 595.60,133.30 596.50,133.30 596.50,142.80 597.45,142.80 597.45,152.40 598.70,152.40 598.70,162.00 600.05,162.00 600.05,171.60 601.30,171.60 601.30,184.90 602.38,184.90 602.38,189.65 603.32,189.65 603.32,194.40 603.95,194.40 603.95,150.50 604.60,150.50 604.60,151.45 605.60,151.45 605.60,152.40 606.58,152.40 606.58,153.35 607.52,153.35 607.52,154.30 608.48,154.30 608.48,153.35 609.42,153.35 609.42,152.40 610.38,152.40 610.38,153.35 611.32,153.35 611.32,154.30 612.27,154.30 612.27,153.85 613.23,153.85 613.23,153.40 614.18,153.40 614.18,153.85 615.12,153.85 615.12,154.30 616.08,154.30 616.08,154.30 617.02,154.30 617.02,154.30 618.00,154.30 618.00,160.10 618.95,160.10 618.95,162.00 619.90,162.00 619.90,160.10 620.75,160.10 620.75,167.70 621.58,167.70 621.58,172.45 622.52,172.45 622.52,177.20 623.48,177.20 623.48,181.05 624.42,181.05 624.42,184.90 625.38,184.90 625.38,187.75 626.32,187.75 626.32,190.60 627.27,190.60 627.27,194.45 628.23,194.45 628.23,198.30 629.18,198.30 629.18,199.25 630.12,199.25 630.12,200.20 631.10,200.20 631.10,204.00 631.95,204.00 631.95,212.00 632.40,212.00 632.40,125.10 633.05,125.10 633.05,124.55 634.15,124.55 634.15,124.00 635.23,124.00 635.23,123.45 636.27,123.45 636.27,122.90 637.35,122.90 637.35,120.80 638.45,120.80 638.45,131.50 639.55,131.50 639.55,133.70 640.62,133.70 640.62,138.00 641.68,138.00 641.68,142.30 642.75,142.30 642.75,146.60 643.85,146.60 643.85,148.75 644.95,148.75 644.95,150.90 646.00,150.90 646.00,148.80 647.05,148.80 647.05,150.90 648.15,150.90 648.15,149.30 649.25,149.30 649.25,147.70 650.30,147.70 650.30,148.80 651.35,148.80 651.35,161.70 652.45,161.70 652.45,161.70 653.55,161.70 653.55,161.70 654.60,161.70 654.60,168.10 655.65,168.10 655.65,174.60 656.75,174.60 656.75,178.90 657.85,178.90 657.85,177.85 658.95,177.85 658.95,176.80 660.02,176.80 660.02,176.80 661.08,176.80 661.08,176.80 662.03,176.80 662.03,177.85 662.88,177.85 662.88,178.90 663.75,178.90 663.75,187.50 664.65,187.50 664.65,198.30 665.60,198.30 665.60,210.30 666.60,210.30 666.60,216.10 667.60,216.10 667.60,214.10 668.55,214.10 668.55,219.90 669.50,219.90 669.50,216.10 670.50,216.10 670.50,214.10 671.45,214.10 671.45,219.90 672.35,219.90 672.35,214.10 673.30,214.10 673.30,212.20 674.15,212.20 674.15,214.00 674.50,214.00" fill="none" stroke="#4c9de0" stroke-width="1.4" stroke-linejoin="round"/>
</g>
<defs><clipPath id="c"><rect x="19" y="4" width="656" height="396"/></clipPath></defs>
<line x1="19" y1="3.8" x2="19" y2="400.5" stroke="#4a4a4a" stroke-width="2"/>
<line x1="18" y1="3.8" x2="675.5" y2="3.8" stroke="#444" stroke-width="1.8"/>
<line x1="674.7" y1="3" x2="674.7" y2="401" stroke="#333" stroke-width="1.6"/>
<line x1="18" y1="400.4" x2="675.5" y2="400.4" stroke="#1e1e1e" stroke-width="1.4"/>
<text x="12" y="404.00" text-anchor="end">20</text>
<line x1="19" y1="343.15" x2="23" y2="343.15" stroke="#222" stroke-width="1.3"/>
<text x="12" y="347.55" text-anchor="end">30</text>
<line x1="19" y1="286.70" x2="23" y2="286.70" stroke="#222" stroke-width="1.3"/>
<text x="12" y="291.10" text-anchor="end">40</text>
<line x1="19" y1="230.25" x2="23" y2="230.25" stroke="#222" stroke-width="1.3"/>
<text x="12" y="234.65" text-anchor="end">50</text>
<line x1="19" y1="173.80" x2="23" y2="173.80" stroke="#222" stroke-width="1.3"/>
<text x="12" y="178.20" text-anchor="end">60</text>
<line x1="19" y1="117.35" x2="23" y2="117.35" stroke="#222" stroke-width="1.3"/>
<text x="12" y="121.75" text-anchor="end">70</text>
<line x1="19" y1="60.90" x2="23" y2="60.90" stroke="#222" stroke-width="1.3"/>
<text x="12" y="65.30" text-anchor="end">80</text>
<text x="12" y="8.05" text-anchor="end">90</text>
<text x="18.30" y="417.2" text-anchor="middle">2017</text>
<line x1="150.20" y1="400" x2="150.20" y2="396" stroke="#222" stroke-width="1.3"/>
<text x="149.45" y="417.2" text-anchor="middle">2018</text>
<line x1="281.40" y1="400" x2="281.40" y2="396" stroke="#222" stroke-width="1.3"/>
<text x="280.60" y="417.2" text-anchor="middle">2019</text>
<line x1="412.60" y1="400" x2="412.60" y2="396" stroke="#222" stroke-width="1.3"/>
<text x="411.75" y="417.2" text-anchor="middle">2020</text>
<line x1="543.80" y1="400" x2="543.80" y2="396" stroke="#222" stroke-width="1.3"/>
<text x="542.90" y="417.2" text-anchor="middle">2021</text>
<text x="674.05" y="417.2" text-anchor="middle">2022</text>
<line x1="190" y1="28.5" x2="217" y2="28.5" stroke="#000000" stroke-width="1.3"/>
<text x="220.6" y="32.6" style="font-size:13px">fore=7</text>
<line x1="261" y1="28.5" x2="287.5" y2="28.5" stroke="#d33c35" stroke-width="1.3"/>
<text x="291.4" y="32.6" style="font-size:13px">fore=10</text>
<line x1="339" y1="28.5" x2="365.3" y2="28.5" stroke="#d6843f" stroke-width="1.3"/>
<text x="369.4" y="32.6" style="font-size:13px">fore=15</text>
<line x1="416.6" y1="28.5" x2="443.2" y2="28.5" stroke="#4c9de0" stroke-width="1.3"/>
<text x="447.3" y="32.6" style="font-size:13px">fore=30</text>

</svg>
</body></html>
